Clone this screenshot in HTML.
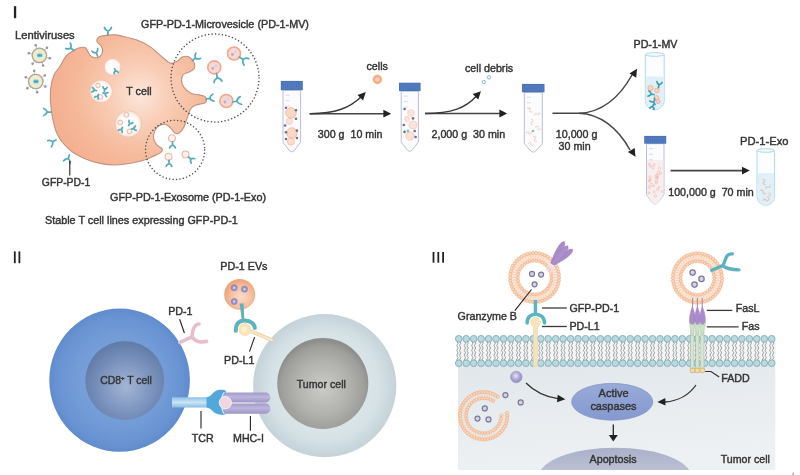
<!DOCTYPE html><html><head><meta charset="utf-8"><style>html,body{margin:0;padding:0;background:#fff;width:800px;height:475px;overflow:hidden}svg{display:block;filter:blur(0.35px)}text{font-family:"Liberation Sans",sans-serif;fill:#343434;stroke:#343434;stroke-width:0.42px}</style></head><body>
<svg width="800" height="475" viewBox="0 0 800 475">
<defs>
<radialGradient id="gT" gradientUnits="userSpaceOnUse" cx="140" cy="95" r="85"><stop offset="0" stop-color="#fce7dc"/><stop offset="0.35" stop-color="#f9cdb6"/><stop offset="0.75" stop-color="#f5b99a"/><stop offset="1" stop-color="#f4b192"/></radialGradient>
<radialGradient id="gVes" cx="0.5" cy="0.5" r="0.5"><stop offset="0" stop-color="#ffffff"/><stop offset="0.72" stop-color="#fefaf8"/><stop offset="0.9" stop-color="#fbe9e0"/><stop offset="1" stop-color="#f6d3c1"/></radialGradient>
<radialGradient id="gCD8" cx="0.5" cy="0.5" r="0.5"><stop offset="0" stop-color="#80a6dc"/><stop offset="0.6" stop-color="#749dd8"/><stop offset="0.9" stop-color="#6892d2"/><stop offset="1" stop-color="#608bcd"/></radialGradient>
<radialGradient id="gCD8n" cx="0.52" cy="0.58" r="0.55"><stop offset="0" stop-color="#a3b5d3"/><stop offset="0.55" stop-color="#7e96c0"/><stop offset="1" stop-color="#637daa"/></radialGradient>
<radialGradient id="gTum" cx="0.5" cy="0.5" r="0.5"><stop offset="0" stop-color="#e9f0f2"/><stop offset="0.75" stop-color="#d6e2e6"/><stop offset="1" stop-color="#c4d3d9"/></radialGradient>
<radialGradient id="gTumn" cx="0.5" cy="0.55" r="0.52"><stop offset="0" stop-color="#cbcbc8"/><stop offset="0.55" stop-color="#b2b2af"/><stop offset="0.88" stop-color="#9e9e9b"/><stop offset="1" stop-color="#8e8e8c"/></radialGradient>
<radialGradient id="gEV" cx="0.55" cy="0.58" r="0.55"><stop offset="0" stop-color="#fadccb"/><stop offset="0.6" stop-color="#f6c0a0"/><stop offset="1" stop-color="#f0a37a"/></radialGradient>
<radialGradient id="gGz" cx="0.45" cy="0.4" r="0.6"><stop offset="0" stop-color="#e6e2f2"/><stop offset="0.6" stop-color="#aaa3d0"/><stop offset="1" stop-color="#8f88bd"/></radialGradient>
<linearGradient id="gCyt" x1="0" y1="0" x2="0.3" y2="1"><stop offset="0" stop-color="#e1e7eb"/><stop offset="1" stop-color="#eef1f4"/></linearGradient><linearGradient id="gCas" x1="0" y1="0" x2="0" y2="1"><stop offset="0" stop-color="#97aad8"/><stop offset="1" stop-color="#8699cf"/></linearGradient>
<linearGradient id="gTCR" x1="0" y1="0" x2="0" y2="1"><stop offset="0" stop-color="#8cc2e6"/><stop offset="0.5" stop-color="#cbe5f4"/><stop offset="1" stop-color="#86bde3"/></linearGradient><linearGradient id="gMHC" x1="0" y1="0" x2="0" y2="1"><stop offset="0" stop-color="#a199c8"/><stop offset="0.45" stop-color="#bdb6dc"/><stop offset="1" stop-color="#9d95c5"/></linearGradient>
<linearGradient id="gApo" x1="0" y1="0" x2="0" y2="1"><stop offset="0" stop-color="#a9b0c9"/><stop offset="0.4" stop-color="#bcc1d3"/><stop offset="1" stop-color="#e2e5ec"/></linearGradient>
<radialGradient id="gVir" cx="0.5" cy="0.5" r="0.5"><stop offset="0" stop-color="#8fd0dc"/><stop offset="0.35" stop-color="#d9eedb"/><stop offset="0.65" stop-color="#f3efc8"/><stop offset="0.85" stop-color="#ead9c9"/><stop offset="1" stop-color="#b5b29f"/></radialGradient>
</defs>
<rect x="13.9" y="6.2" width="2.3" height="12" fill="#222"/>
<text x="15" y="38.9" font-size="11.2">Lentiviruses</text>
<line x1="36.8" y1="48.3" x2="35.7" y2="45.3" stroke="#c3afd6" stroke-width="0.8"/><circle cx="35.7" cy="45.3" r="1.25" fill="#948fa8"/>
<line x1="44.8" y1="50.0" x2="47.0" y2="47.8" stroke="#c3afd6" stroke-width="0.8"/><circle cx="47.0" cy="47.8" r="1.25" fill="#948fa8"/>
<line x1="46.7" y1="57.4" x2="49.8" y2="58.2" stroke="#c3afd6" stroke-width="0.8"/><circle cx="49.8" cy="58.2" r="1.25" fill="#948fa8"/>
<line x1="42.0" y1="62.5" x2="43.1" y2="65.5" stroke="#c3afd6" stroke-width="0.8"/><circle cx="43.1" cy="65.5" r="1.25" fill="#948fa8"/>
<line x1="34.6" y1="61.3" x2="32.6" y2="63.8" stroke="#c3afd6" stroke-width="0.8"/><circle cx="32.6" cy="63.8" r="1.25" fill="#948fa8"/>
<line x1="31.9" y1="53.9" x2="28.8" y2="53.3" stroke="#c3afd6" stroke-width="0.8"/><circle cx="28.8" cy="53.3" r="1.25" fill="#948fa8"/>
<circle cx="39.4" cy="55.4" r="7.8" fill="url(#gVir)"/>
<circle cx="39.4" cy="55.4" r="7.2" fill="none" stroke="#aba895" stroke-width="1.1"/>
<rect x="37.2" y="53.7" width="5" height="3.4" rx="0.8" fill="#5ab3c9" opacity="0.85"/>
<path d="M37.7,55.9 l1,-1 l1,1 l1,-1 l1,1" stroke="#3d6f9a" stroke-width="0.5" fill="none"/>
<line x1="34.6" y1="74.0" x2="34.2" y2="70.8" stroke="#c3afd6" stroke-width="0.8"/><circle cx="34.2" cy="70.8" r="1.25" fill="#948fa8"/>
<line x1="42.1" y1="77.4" x2="44.8" y2="75.6" stroke="#c3afd6" stroke-width="0.8"/><circle cx="44.8" cy="75.6" r="1.25" fill="#948fa8"/>
<line x1="42.5" y1="85.0" x2="45.3" y2="86.4" stroke="#c3afd6" stroke-width="0.8"/><circle cx="45.3" cy="86.4" r="1.25" fill="#948fa8"/>
<line x1="36.8" y1="89.0" x2="37.2" y2="92.2" stroke="#c3afd6" stroke-width="0.8"/><circle cx="37.2" cy="92.2" r="1.25" fill="#948fa8"/>
<line x1="29.8" y1="86.3" x2="27.3" y2="88.3" stroke="#c3afd6" stroke-width="0.8"/><circle cx="27.3" cy="88.3" r="1.25" fill="#948fa8"/>
<line x1="28.7" y1="78.5" x2="25.8" y2="77.3" stroke="#c3afd6" stroke-width="0.8"/><circle cx="25.8" cy="77.3" r="1.25" fill="#948fa8"/>
<circle cx="35.7" cy="81.5" r="7.8" fill="url(#gVir)"/>
<circle cx="35.7" cy="81.5" r="7.2" fill="none" stroke="#aba895" stroke-width="1.1"/>
<rect x="33.5" y="79.8" width="5" height="3.4" rx="0.8" fill="#5ab3c9" opacity="0.85"/>
<path d="M34.0,82.0 l1,-1 l1,1 l1,-1 l1,1" stroke="#3d6f9a" stroke-width="0.5" fill="none"/>
<path d="M60.0,66.3 C62.0,63.1 64.0,58.4 66.3,55.8 C68.6,53.2 71.5,51.9 73.7,50.5 C75.9,49.1 77.5,48.2 79.3,47.7 C81.1,47.2 83.1,47.1 84.3,47.3 C85.5,47.5 85.8,48.0 86.5,48.8 C87.2,49.6 87.5,51.1 88.2,52.3 C88.9,53.5 89.7,55.0 90.7,55.9 C91.7,56.8 93.0,57.5 94.3,57.7 C95.6,57.9 97.4,57.8 98.6,57.3 C99.8,56.8 100.8,55.7 101.5,54.5 C102.2,53.3 102.7,51.6 102.6,50.2 C102.5,48.8 101.9,47.1 101.1,45.9 C100.3,44.7 98.6,43.9 97.9,43.0 C97.2,42.1 96.8,41.4 96.8,40.5 C96.8,39.6 97.1,38.5 97.9,37.8 C98.7,37.1 100.0,36.5 101.5,36.1 C103.0,35.7 105.0,35.3 107.2,35.1 C109.5,34.9 112.9,34.7 115.0,34.8 C117.1,34.9 116.3,34.7 120.0,35.6 C123.7,36.5 131.8,38.2 136.9,40.1 C142.0,42.0 146.1,44.1 150.3,46.9 C154.5,49.7 158.7,54.3 162.1,57.0 C165.5,59.7 168.1,62.5 170.6,63.2 C173.1,63.9 175.3,62.2 177.3,61.2 C179.3,60.2 180.4,57.7 182.4,57.0 C184.4,56.3 187.1,56.0 189.1,57.0 C191.1,58.0 193.3,60.9 194.2,62.9 C195.0,64.9 195.0,67.3 194.2,68.8 C193.3,70.3 190.9,71.1 189.1,72.1 C187.3,73.1 184.5,73.3 183.2,74.7 C181.9,76.1 181.4,78.5 181.5,80.6 C181.6,82.7 182.4,85.2 184.0,87.3 C185.6,89.4 188.3,91.9 190.8,93.2 C193.3,94.5 196.8,94.3 199.2,94.9 C201.6,95.5 203.9,95.7 205.1,96.6 C206.3,97.5 206.6,99.5 206.5,100.5 C206.4,101.5 206.6,102.1 204.7,102.9 C202.8,103.7 197.7,104.2 195.3,105.3 C192.9,106.3 191.8,107.2 190.5,109.2 C189.2,111.2 188.5,114.2 187.4,117.1 C186.3,120.0 185.5,124.0 184.2,126.6 C182.9,129.2 181.1,131.8 179.5,132.9 C177.9,134.0 176.1,133.7 174.7,132.9 C173.2,132.1 172.4,129.6 170.8,128.2 C169.2,126.7 167.3,124.6 165.3,124.2 C163.3,123.8 160.7,124.8 159.0,125.8 C157.3,126.8 155.9,128.5 155.0,130.5 C154.1,132.5 153.1,135.2 153.4,137.6 C153.7,140.0 155.2,142.8 156.6,144.7 C158.0,146.5 161.4,147.4 162.1,148.7 C162.8,150.0 162.1,151.3 160.5,152.6 C158.9,153.9 156.0,155.1 152.6,156.6 C149.2,158.1 145.5,159.9 140.0,161.3 C134.5,162.7 125.8,164.4 119.5,164.8 C113.2,165.2 108.5,165.0 102.5,163.9 C96.5,162.8 89.3,160.7 83.6,158.2 C77.9,155.7 72.8,152.8 68.4,148.7 C64.0,144.6 59.8,139.9 57.0,133.6 C54.2,127.3 52.5,118.1 51.4,110.8 C50.3,103.5 50.1,96.0 50.5,90.0 C50.9,84.0 52.4,79.0 54.0,75.0 C55.6,71.0 58.0,69.5 60.0,66.3Z" fill="url(#gT)" stroke="#bf927f" stroke-width="1.1"/>
<circle cx="112.6" cy="67" r="8.5" fill="url(#gVes)" stroke="#e9c3b3" stroke-width="0.6"/>
<circle cx="101.2" cy="91.3" r="11.4" fill="url(#gVes)" stroke="#e9c3b3" stroke-width="0.6"/>
<circle cx="128.3" cy="123.9" r="13.3" fill="url(#gVes)" stroke="#e9c3b3" stroke-width="0.6"/>
<g transform="translate(114.6,68.8) rotate(160.0) scale(0.62)"><path d="M0,0 L0,-3.7 M0,-3.7 C-1.8,-4.6 -3.2,-5.8 -3.5,-7.4 M0,-3.7 C1.8,-4.6 3.2,-5.8 3.5,-7.4" fill="none" stroke="#52acb9" stroke-width="2.82" stroke-linecap="round"/></g>
<circle cx="98.0" cy="85.5" r="2.3" fill="#fdf0ee" stroke="#efb4a5" stroke-width="1.0"/>
<circle cx="100.5" cy="97.0" r="2.3" fill="#fdf0ee" stroke="#efb4a5" stroke-width="1.0"/>
<g transform="translate(96.5,90.5) rotate(-80.0) scale(0.60)"><path d="M0,0 L0,-3.7 M0,-3.7 C-1.8,-4.6 -3.2,-5.8 -3.5,-7.4 M0,-3.7 C1.8,-4.6 3.2,-5.8 3.5,-7.4" fill="none" stroke="#52acb9" stroke-width="2.92" stroke-linecap="round"/></g>
<g transform="translate(104.3,91.5) rotate(10.0) scale(0.60)"><path d="M0,0 L0,-3.7 M0,-3.7 C-1.8,-4.6 -3.2,-5.8 -3.5,-7.4 M0,-3.7 C1.8,-4.6 3.2,-5.8 3.5,-7.4" fill="none" stroke="#52acb9" stroke-width="2.92" stroke-linecap="round"/></g>
<g transform="translate(103.0,93.0) rotate(110.0) scale(0.60)"><path d="M0,0 L0,-3.7 M0,-3.7 C-1.8,-4.6 -3.2,-5.8 -3.5,-7.4 M0,-3.7 C1.8,-4.6 3.2,-5.8 3.5,-7.4" fill="none" stroke="#52acb9" stroke-width="2.92" stroke-linecap="round"/></g>
<g transform="translate(98.5,94.5) rotate(-150.0) scale(0.55)"><path d="M0,0 L0,-3.7 M0,-3.7 C-1.8,-4.6 -3.2,-5.8 -3.5,-7.4 M0,-3.7 C1.8,-4.6 3.2,-5.8 3.5,-7.4" fill="none" stroke="#52acb9" stroke-width="3.18" stroke-linecap="round"/></g>
<circle cx="126.4" cy="114.8" r="2.5" fill="#fdf0ee" stroke="#efb4a5" stroke-width="1.0"/>
<circle cx="120.2" cy="122.5" r="2.4" fill="#fdf0ee" stroke="#efb4a5" stroke-width="1.0"/>
<circle cx="129.5" cy="131.4" r="2.4" fill="#fdf0ee" stroke="#efb4a5" stroke-width="1.0"/>
<g transform="translate(128.6,125.5) rotate(30.0) scale(0.62)"><path d="M0,0 L0,-3.7 M0,-3.7 C-1.8,-4.6 -3.2,-5.8 -3.5,-7.4 M0,-3.7 C1.8,-4.6 3.2,-5.8 3.5,-7.4" fill="none" stroke="#52acb9" stroke-width="2.82" stroke-linecap="round"/></g>
<g transform="translate(122.5,127.5) rotate(-150.0) scale(0.60)"><path d="M0,0 L0,-3.7 M0,-3.7 C-1.8,-4.6 -3.2,-5.8 -3.5,-7.4 M0,-3.7 C1.8,-4.6 3.2,-5.8 3.5,-7.4" fill="none" stroke="#52acb9" stroke-width="2.92" stroke-linecap="round"/></g>
<g transform="translate(131.5,129.0) rotate(80.0) scale(0.60)"><path d="M0,0 L0,-3.7 M0,-3.7 C-1.8,-4.6 -3.2,-5.8 -3.5,-7.4 M0,-3.7 C1.8,-4.6 3.2,-5.8 3.5,-7.4" fill="none" stroke="#52acb9" stroke-width="2.92" stroke-linecap="round"/></g>
<text x="126.3" y="95.3" font-size="10.7">T cell</text>
<g transform="translate(107.9,34.9) rotate(0.0) scale(1.00)"><path d="M0,0 L0,-3.7 M0,-3.7 C-1.8,-4.6 -3.2,-5.8 -3.5,-7.4 M0,-3.7 C1.8,-4.6 3.2,-5.8 3.5,-7.4" fill="none" stroke="#52acb9" stroke-width="1.75" stroke-linecap="round"/></g>
<g transform="translate(73.7,50.5) rotate(-50.0) scale(1.00)"><path d="M0,0 L0,-3.7 M0,-3.7 C-1.8,-4.6 -3.2,-5.8 -3.5,-7.4 M0,-3.7 C1.8,-4.6 3.2,-5.8 3.5,-7.4" fill="none" stroke="#52acb9" stroke-width="1.75" stroke-linecap="round"/></g>
<g transform="translate(97.6,56.0) rotate(-25.0) scale(0.90)"><path d="M0,0 L0,-3.7 M0,-3.7 C-1.8,-4.6 -3.2,-5.8 -3.5,-7.4 M0,-3.7 C1.8,-4.6 3.2,-5.8 3.5,-7.4" fill="none" stroke="#52acb9" stroke-width="1.94" stroke-linecap="round"/></g>
<g transform="translate(51.0,112.0) rotate(-90.0) scale(1.00)"><path d="M0,0 L0,-3.7 M0,-3.7 C-1.8,-4.6 -3.2,-5.8 -3.5,-7.4 M0,-3.7 C1.8,-4.6 3.2,-5.8 3.5,-7.4" fill="none" stroke="#52acb9" stroke-width="1.75" stroke-linecap="round"/></g>
<g transform="translate(56.0,140.0) rotate(-120.0) scale(1.00)"><path d="M0,0 L0,-3.7 M0,-3.7 C-1.8,-4.6 -3.2,-5.8 -3.5,-7.4 M0,-3.7 C1.8,-4.6 3.2,-5.8 3.5,-7.4" fill="none" stroke="#52acb9" stroke-width="1.75" stroke-linecap="round"/></g>
<g transform="translate(69.5,155.0) rotate(-160.0) scale(1.00)"><path d="M0,0 L0,-3.7 M0,-3.7 C-1.8,-4.6 -3.2,-5.8 -3.5,-7.4 M0,-3.7 C1.8,-4.6 3.2,-5.8 3.5,-7.4" fill="none" stroke="#52acb9" stroke-width="1.75" stroke-linecap="round"/></g>
<g transform="translate(192.5,60.5) rotate(50.0) scale(1.00)"><path d="M0,0 L0,-3.7 M0,-3.7 C-1.8,-4.6 -3.2,-5.8 -3.5,-7.4 M0,-3.7 C1.8,-4.6 3.2,-5.8 3.5,-7.4" fill="none" stroke="#52acb9" stroke-width="1.75" stroke-linecap="round"/></g>
<g transform="translate(206.0,99.0) rotate(80.0) scale(1.00)"><path d="M0,0 L0,-3.7 M0,-3.7 C-1.8,-4.6 -3.2,-5.8 -3.5,-7.4 M0,-3.7 C1.8,-4.6 3.2,-5.8 3.5,-7.4" fill="none" stroke="#52acb9" stroke-width="1.75" stroke-linecap="round"/></g>
<line x1="69.8" y1="161" x2="69.8" y2="175.5" stroke="#222" stroke-width="1.1"/>
<text x="41.8" y="186.4" font-size="10.4">GFP-PD-1</text>
<circle cx="215" cy="78" r="44" fill="none" stroke="#4a4a4a" stroke-width="1.5" stroke-dasharray="0.01 3.45" stroke-linecap="round"/>
<circle cx="175.1" cy="149.9" r="29.6" fill="none" stroke="#4a4a4a" stroke-width="1.5" stroke-dasharray="0.01 3.45" stroke-linecap="round"/>
<circle cx="234.0" cy="53.5" r="6.5" fill="#f8d8d0" stroke="#efa98f" stroke-width="1.6"/><circle cx="232.5" cy="54.5" r="1.4" fill="#b9a9d4"/><circle cx="235.5" cy="52.0" r="1.4" fill="#d6cfe6"/>
<g transform="translate(239.5,57.0) rotate(125.0) scale(1.15)"><path d="M0,0 L0,-3.7 M0,-3.7 C-1.8,-4.6 -3.2,-5.8 -3.5,-7.4 M0,-3.7 C1.8,-4.6 3.2,-5.8 3.5,-7.4" fill="none" stroke="#52acb9" stroke-width="1.52" stroke-linecap="round"/></g>
<circle cx="214.3" cy="67.4" r="6.5" fill="#f8d8d0" stroke="#efa98f" stroke-width="1.6"/><circle cx="212.8" cy="68.4" r="1.4" fill="#b9a9d4"/><circle cx="215.8" cy="65.9" r="1.4" fill="#d6cfe6"/>
<g transform="translate(216.5,73.5) rotate(170.0) scale(1.15)"><path d="M0,0 L0,-3.7 M0,-3.7 C-1.8,-4.6 -3.2,-5.8 -3.5,-7.4 M0,-3.7 C1.8,-4.6 3.2,-5.8 3.5,-7.4" fill="none" stroke="#52acb9" stroke-width="1.52" stroke-linecap="round"/></g>
<circle cx="226.4" cy="101.0" r="6.5" fill="#f8d8d0" stroke="#efa98f" stroke-width="1.6"/><circle cx="224.9" cy="102.0" r="1.4" fill="#b9a9d4"/><circle cx="227.9" cy="99.5" r="1.4" fill="#d6cfe6"/>
<g transform="translate(232.5,102.0) rotate(80.0) scale(1.15)"><path d="M0,0 L0,-3.7 M0,-3.7 C-1.8,-4.6 -3.2,-5.8 -3.5,-7.4 M0,-3.7 C1.8,-4.6 3.2,-5.8 3.5,-7.4" fill="none" stroke="#52acb9" stroke-width="1.52" stroke-linecap="round"/></g>
<circle cx="172.0" cy="138.2" r="3.4" fill="#fdf0ee" stroke="#efb4a5" stroke-width="1.1"/>
<g transform="translate(172.5,142.0) rotate(180.0) scale(0.80)"><path d="M0,0 L0,-3.7 M0,-3.7 C-1.8,-4.6 -3.2,-5.8 -3.5,-7.4 M0,-3.7 C1.8,-4.6 3.2,-5.8 3.5,-7.4" fill="none" stroke="#52acb9" stroke-width="2.19" stroke-linecap="round"/></g>
<circle cx="168.6" cy="156.7" r="3.4" fill="#fdf0ee" stroke="#efb4a5" stroke-width="1.1"/>
<g transform="translate(169.0,160.5) rotate(180.0) scale(0.80)"><path d="M0,0 L0,-3.7 M0,-3.7 C-1.8,-4.6 -3.2,-5.8 -3.5,-7.4 M0,-3.7 C1.8,-4.6 3.2,-5.8 3.5,-7.4" fill="none" stroke="#52acb9" stroke-width="2.19" stroke-linecap="round"/></g>
<circle cx="185.5" cy="154.4" r="3.4" fill="#fdf0ee" stroke="#efb4a5" stroke-width="1.1"/>
<g transform="translate(188.5,157.0) rotate(130.0) scale(0.80)"><path d="M0,0 L0,-3.7 M0,-3.7 C-1.8,-4.6 -3.2,-5.8 -3.5,-7.4 M0,-3.7 C1.8,-4.6 3.2,-5.8 3.5,-7.4" fill="none" stroke="#52acb9" stroke-width="2.19" stroke-linecap="round"/></g>
<text x="141" y="28" font-size="10.8">GFP-PD-1-Microvesicle (PD-1-MV)</text>
<text x="110" y="200.8" font-size="10.8">GFP-PD-1-Exosome (PD-1-Exo)</text>
<text x="45" y="223.6" font-size="10.8">Stable T cell lines expressing GFP-PD-1</text>
<g><path d="M283.0,90.2 L283.0,142.3 L289.6,150.9 Q291.8,152.9 294.0,150.9 L300.6,142.3 L300.6,90.2 Z" fill="#fcfbfe" stroke="#b9bfd8" stroke-width="1" stroke-linejoin="round"/><circle cx="291.0" cy="112.9" r="5.2" fill="#f9d3bd" stroke="#f0a983" stroke-width="0.9" opacity="0.85"/><circle cx="289.3" cy="121.3" r="3.2" fill="#f9d3bd" stroke="#f0a983" stroke-width="0.9" opacity="0.60"/><circle cx="291.8" cy="133.0" r="5.2" fill="#f9d3bd" stroke="#f0a983" stroke-width="0.9" opacity="0.85"/><circle cx="291.0" cy="141.5" r="3.6" fill="#f9d3bd" stroke="#f0a983" stroke-width="0.9" opacity="0.70"/><circle cx="286.0" cy="107.8" r="1.3" fill="#6a7092"/><circle cx="296.0" cy="110.3" r="1.3" fill="#6a7092"/><circle cx="285.1" cy="125.5" r="1.3" fill="#6a7092"/><circle cx="296.0" cy="118.8" r="1.3" fill="#6a7092"/><circle cx="286.0" cy="132.2" r="1.3" fill="#6a7092"/><circle cx="296.9" cy="130.6" r="1.3" fill="#6a7092"/><circle cx="286.0" cy="139.0" r="1.3" fill="#6a7092"/><circle cx="296.9" cy="138.0" r="1.3" fill="#6a7092"/><line x1="285.5" y1="95.2" x2="289.5" y2="95.2" stroke="#cdd3e8" stroke-width="0.8"/><line x1="285.5" y1="100.7" x2="289.5" y2="100.7" stroke="#cdd3e8" stroke-width="0.8"/><line x1="285.5" y1="106.2" x2="289.5" y2="106.2" stroke="#cdd3e8" stroke-width="0.8"/><rect x="280.8" y="80.9" width="22.0" height="9.3" fill="#4b74b8"/><line x1="282.6" y1="81.9" x2="282.6" y2="89.2" stroke="#5c82c2" stroke-width="0.7"/><line x1="284.5" y1="81.9" x2="284.5" y2="89.2" stroke="#5c82c2" stroke-width="0.7"/><line x1="286.3" y1="81.9" x2="286.3" y2="89.2" stroke="#5c82c2" stroke-width="0.7"/><line x1="288.1" y1="81.9" x2="288.1" y2="89.2" stroke="#5c82c2" stroke-width="0.7"/><line x1="290.0" y1="81.9" x2="290.0" y2="89.2" stroke="#5c82c2" stroke-width="0.7"/><line x1="291.8" y1="81.9" x2="291.8" y2="89.2" stroke="#5c82c2" stroke-width="0.7"/><line x1="293.6" y1="81.9" x2="293.6" y2="89.2" stroke="#5c82c2" stroke-width="0.7"/><line x1="295.5" y1="81.9" x2="295.5" y2="89.2" stroke="#5c82c2" stroke-width="0.7"/><line x1="297.3" y1="81.9" x2="297.3" y2="89.2" stroke="#5c82c2" stroke-width="0.7"/><line x1="299.1" y1="81.9" x2="299.1" y2="89.2" stroke="#5c82c2" stroke-width="0.7"/><line x1="301.0" y1="81.9" x2="301.0" y2="89.2" stroke="#5c82c2" stroke-width="0.7"/></g>
<g><path d="M401.2,91.1 L401.2,142.0 L407.6,150.4 Q409.8,152.4 412.0,150.4 L418.4,142.0 L418.4,91.1 Z" fill="#fcfbfe" stroke="#b9bfd8" stroke-width="1" stroke-linejoin="round"/><circle cx="411.0" cy="113.0" r="3.3" fill="#f9d3bd" stroke="#f0a983" stroke-width="0.9" opacity="0.50"/><circle cx="413.0" cy="125.0" r="4.0" fill="#f9d3bd" stroke="#f0a983" stroke-width="0.9" opacity="0.55"/><circle cx="410.0" cy="136.0" r="4.2" fill="#f9d3bd" stroke="#f0a983" stroke-width="0.9" opacity="0.60"/><circle cx="407.0" cy="119.0" r="2.5" fill="#f9d3bd" stroke="#f0a983" stroke-width="0.9" opacity="0.50"/><circle cx="404.6" cy="109.0" r="1.3" fill="#6a7092"/><circle cx="413.0" cy="118.4" r="1.3" fill="#6a7092"/><circle cx="403.8" cy="125.0" r="1.3" fill="#6a7092"/><circle cx="404.6" cy="131.9" r="1.3" fill="#6a7092"/><circle cx="414.7" cy="131.0" r="1.3" fill="#6a7092"/><circle cx="415.6" cy="137.0" r="1.3" fill="#6a7092"/><circle cx="408" cy="131" r="1.4" fill="#7fc5d6"/><line x1="403.7" y1="96.1" x2="407.7" y2="96.1" stroke="#cdd3e8" stroke-width="0.8"/><line x1="403.7" y1="101.6" x2="407.7" y2="101.6" stroke="#cdd3e8" stroke-width="0.8"/><line x1="403.7" y1="107.1" x2="407.7" y2="107.1" stroke="#cdd3e8" stroke-width="0.8"/><rect x="399.0" y="82.7" width="21.6" height="8.4" fill="#4b74b8"/><line x1="400.8" y1="83.7" x2="400.8" y2="90.1" stroke="#5c82c2" stroke-width="0.7"/><line x1="402.6" y1="83.7" x2="402.6" y2="90.1" stroke="#5c82c2" stroke-width="0.7"/><line x1="404.4" y1="83.7" x2="404.4" y2="90.1" stroke="#5c82c2" stroke-width="0.7"/><line x1="406.2" y1="83.7" x2="406.2" y2="90.1" stroke="#5c82c2" stroke-width="0.7"/><line x1="408.0" y1="83.7" x2="408.0" y2="90.1" stroke="#5c82c2" stroke-width="0.7"/><line x1="409.8" y1="83.7" x2="409.8" y2="90.1" stroke="#5c82c2" stroke-width="0.7"/><line x1="411.6" y1="83.7" x2="411.6" y2="90.1" stroke="#5c82c2" stroke-width="0.7"/><line x1="413.4" y1="83.7" x2="413.4" y2="90.1" stroke="#5c82c2" stroke-width="0.7"/><line x1="415.2" y1="83.7" x2="415.2" y2="90.1" stroke="#5c82c2" stroke-width="0.7"/><line x1="417.0" y1="83.7" x2="417.0" y2="90.1" stroke="#5c82c2" stroke-width="0.7"/><line x1="418.8" y1="83.7" x2="418.8" y2="90.1" stroke="#5c82c2" stroke-width="0.7"/></g>
<g><path d="M524.3,92.3 L524.3,143.7 L531.1,151.3 Q533.3,153.3 535.5,151.3 L542.3,143.7 L542.3,92.3 Z" fill="#fcfbfe" stroke="#b9bfd8" stroke-width="1" stroke-linejoin="round"/><path transform="translate(530.0,110.0) rotate(30)" d="M-3,0 C-2,-2 0,-2 0,0 C0,2 2,2 3,0" fill="none" stroke="#f2b28f" stroke-width="1" opacity="0.55"/><path transform="translate(537.0,114.0) rotate(-40)" d="M-3,0 C-2,-2 0,-2 0,0 C0,2 2,2 3,0" fill="none" stroke="#f2b28f" stroke-width="1" opacity="0.55"/><path transform="translate(532.0,122.0) rotate(70)" d="M-3,0 C-2,-2 0,-2 0,0 C0,2 2,2 3,0" fill="none" stroke="#f2b28f" stroke-width="1" opacity="0.55"/><path transform="translate(538.0,128.0) rotate(10)" d="M-3,0 C-2,-2 0,-2 0,0 C0,2 2,2 3,0" fill="none" stroke="#f2b28f" stroke-width="1" opacity="0.55"/><path transform="translate(529.0,133.0) rotate(-20)" d="M-3,0 C-2,-2 0,-2 0,0 C0,2 2,2 3,0" fill="none" stroke="#f2b28f" stroke-width="1" opacity="0.55"/><path transform="translate(535.0,139.0) rotate(50)" d="M-3,0 C-2,-2 0,-2 0,0 C0,2 2,2 3,0" fill="none" stroke="#f2b28f" stroke-width="1" opacity="0.55"/><path transform="translate(531.0,144.0) rotate(0)" d="M-3,0 C-2,-2 0,-2 0,0 C0,2 2,2 3,0" fill="none" stroke="#f2b28f" stroke-width="1" opacity="0.55"/><circle cx="533" cy="131" r="1.3" fill="#7fc5d6"/><line x1="526.8" y1="97.3" x2="530.8" y2="97.3" stroke="#cdd3e8" stroke-width="0.8"/><line x1="526.8" y1="102.8" x2="530.8" y2="102.8" stroke="#cdd3e8" stroke-width="0.8"/><line x1="526.8" y1="108.3" x2="530.8" y2="108.3" stroke="#cdd3e8" stroke-width="0.8"/><rect x="522.0" y="83.9" width="22.5" height="8.4" fill="#4b74b8"/><line x1="523.9" y1="84.9" x2="523.9" y2="91.3" stroke="#5c82c2" stroke-width="0.7"/><line x1="525.8" y1="84.9" x2="525.8" y2="91.3" stroke="#5c82c2" stroke-width="0.7"/><line x1="527.7" y1="84.9" x2="527.7" y2="91.3" stroke="#5c82c2" stroke-width="0.7"/><line x1="529.5" y1="84.9" x2="529.5" y2="91.3" stroke="#5c82c2" stroke-width="0.7"/><line x1="531.4" y1="84.9" x2="531.4" y2="91.3" stroke="#5c82c2" stroke-width="0.7"/><line x1="533.3" y1="84.9" x2="533.3" y2="91.3" stroke="#5c82c2" stroke-width="0.7"/><line x1="535.2" y1="84.9" x2="535.2" y2="91.3" stroke="#5c82c2" stroke-width="0.7"/><line x1="537.0" y1="84.9" x2="537.0" y2="91.3" stroke="#5c82c2" stroke-width="0.7"/><line x1="538.9" y1="84.9" x2="538.9" y2="91.3" stroke="#5c82c2" stroke-width="0.7"/><line x1="540.8" y1="84.9" x2="540.8" y2="91.3" stroke="#5c82c2" stroke-width="0.7"/><line x1="542.7" y1="84.9" x2="542.7" y2="91.3" stroke="#5c82c2" stroke-width="0.7"/></g>
<g><path d="M646.5,143.7 L646.5,194.8 L653.0,203.3 Q655.2,205.3 657.4,203.3 L664.0,194.8 L664.0,143.7 Z" fill="#fcfbfe" stroke="#b9bfd8" stroke-width="1" stroke-linejoin="round"/><path d="M647,160 L647,194.8 L653.3,203.4 Q655.5,205.3 657.7,203.4 L663.4,194.8 L663.4,160 Z" fill="#f8eef0"/><circle cx="652.9" cy="167.4" r="1.3" fill="none" stroke="#eeb09c" stroke-width="0.7" opacity="0.75"/><circle cx="649.5" cy="181.3" r="1.1" fill="none" stroke="#eeb09c" stroke-width="0.7" opacity="0.75"/><circle cx="649.3" cy="180.3" r="0.8" fill="none" stroke="#eeb09c" stroke-width="0.7" opacity="0.75"/><circle cx="654.4" cy="164.5" r="0.9" fill="none" stroke="#eeb09c" stroke-width="0.7" opacity="0.75"/><circle cx="654.2" cy="191.8" r="0.9" fill="none" stroke="#eeb09c" stroke-width="0.7" opacity="0.75"/><circle cx="651.5" cy="184.6" r="1.5" fill="none" stroke="#eeb09c" stroke-width="0.7" opacity="0.75"/><circle cx="656.3" cy="176.3" r="1.5" fill="none" stroke="#eeb09c" stroke-width="0.7" opacity="0.75"/><circle cx="649.1" cy="192.9" r="1.0" fill="none" stroke="#eeb09c" stroke-width="0.7" opacity="0.75"/><circle cx="650.4" cy="166.2" r="1.0" fill="none" stroke="#eeb09c" stroke-width="0.7" opacity="0.75"/><circle cx="659.5" cy="168.5" r="1.2" fill="none" stroke="#eeb09c" stroke-width="0.7" opacity="0.75"/><circle cx="657.1" cy="175.4" r="1.2" fill="none" stroke="#eeb09c" stroke-width="0.7" opacity="0.75"/><circle cx="649.3" cy="164.1" r="0.9" fill="none" stroke="#eeb09c" stroke-width="0.7" opacity="0.75"/><circle cx="657.7" cy="177.4" r="1.0" fill="none" stroke="#eeb09c" stroke-width="0.7" opacity="0.75"/><circle cx="656.4" cy="178.3" r="1.0" fill="none" stroke="#eeb09c" stroke-width="0.7" opacity="0.75"/><circle cx="659.2" cy="187.2" r="1.0" fill="none" stroke="#eeb09c" stroke-width="0.7" opacity="0.75"/><circle cx="656.3" cy="180.9" r="1.4" fill="none" stroke="#eeb09c" stroke-width="0.7" opacity="0.75"/><circle cx="658.3" cy="172.4" r="1.5" fill="none" stroke="#eeb09c" stroke-width="0.7" opacity="0.75"/><circle cx="650.1" cy="177.1" r="1.3" fill="none" stroke="#eeb09c" stroke-width="0.7" opacity="0.75"/><circle cx="650.6" cy="179.6" r="0.8" fill="none" stroke="#eeb09c" stroke-width="0.7" opacity="0.75"/><circle cx="657.5" cy="189.5" r="1.2" fill="none" stroke="#eeb09c" stroke-width="0.7" opacity="0.75"/><circle cx="660.3" cy="173.3" r="1.3" fill="none" stroke="#eeb09c" stroke-width="0.7" opacity="0.75"/><circle cx="656.5" cy="182.9" r="1.1" fill="none" stroke="#eeb09c" stroke-width="0.7" opacity="0.75"/><circle cx="655.3" cy="196.0" r="1.3" fill="none" stroke="#eeb09c" stroke-width="0.7" opacity="0.75"/><circle cx="649.3" cy="187.3" r="1.3" fill="none" stroke="#eeb09c" stroke-width="0.7" opacity="0.75"/><circle cx="661.9" cy="191.6" r="1.0" fill="none" stroke="#eeb09c" stroke-width="0.7" opacity="0.75"/><circle cx="653.7" cy="186.1" r="0.8" fill="none" stroke="#eeb09c" stroke-width="0.7" opacity="0.75"/><line x1="649.0" y1="148.7" x2="653.0" y2="148.7" stroke="#cdd3e8" stroke-width="0.8"/><line x1="649.0" y1="154.2" x2="653.0" y2="154.2" stroke="#cdd3e8" stroke-width="0.8"/><line x1="649.0" y1="159.7" x2="653.0" y2="159.7" stroke="#cdd3e8" stroke-width="0.8"/><rect x="644.2" y="135.9" width="22.0" height="7.8" fill="#4b74b8"/><line x1="646.0" y1="136.9" x2="646.0" y2="142.7" stroke="#5c82c2" stroke-width="0.7"/><line x1="647.9" y1="136.9" x2="647.9" y2="142.7" stroke="#5c82c2" stroke-width="0.7"/><line x1="649.7" y1="136.9" x2="649.7" y2="142.7" stroke="#5c82c2" stroke-width="0.7"/><line x1="651.5" y1="136.9" x2="651.5" y2="142.7" stroke="#5c82c2" stroke-width="0.7"/><line x1="653.4" y1="136.9" x2="653.4" y2="142.7" stroke="#5c82c2" stroke-width="0.7"/><line x1="655.2" y1="136.9" x2="655.2" y2="142.7" stroke="#5c82c2" stroke-width="0.7"/><line x1="657.0" y1="136.9" x2="657.0" y2="142.7" stroke="#5c82c2" stroke-width="0.7"/><line x1="658.9" y1="136.9" x2="658.9" y2="142.7" stroke="#5c82c2" stroke-width="0.7"/><line x1="660.7" y1="136.9" x2="660.7" y2="142.7" stroke="#5c82c2" stroke-width="0.7"/><line x1="662.5" y1="136.9" x2="662.5" y2="142.7" stroke="#5c82c2" stroke-width="0.7"/><line x1="664.4" y1="136.9" x2="664.4" y2="142.7" stroke="#5c82c2" stroke-width="0.7"/></g>
<path d="M645.3,54.5 L645.3,101.3 A9.5,9.5 0 0 0 664.2,101.3 L664.2,54.5" fill="#fbfdfe" stroke="#a9d3ea" stroke-width="0.9"/><path d="M645.8,76.6 L645.8,101.3 A9.0,9.0 0 0 0 663.7,101.3 L663.7,76.6 Z" fill="#e0eff8"/><ellipse cx="654.8" cy="54.5" rx="9.5" ry="1.8" fill="#f4f9fc" stroke="#a9d3ea" stroke-width="0.9"/><circle cx="650.5" cy="88" r="2.6" fill="#f6d5c4" stroke="#f0b090" stroke-width="0.9"/><circle cx="657" cy="90.5" r="2.3" fill="#f6d5c4" stroke="#f0b090" stroke-width="0.9"/><circle cx="656.5" cy="98" r="2.4" fill="#f6d5c4" stroke="#eea897" stroke-width="0.9"/><circle cx="658" cy="101.5" r="2" fill="#f6d5c4" stroke="#eea897" stroke-width="0.9"/><g transform="translate(658.5,87.5) rotate(10.0) scale(0.75)"><path d="M0,0 L0,-3.7 M0,-3.7 C-1.8,-4.6 -3.2,-5.8 -3.5,-7.4 M0,-3.7 C1.8,-4.6 3.2,-5.8 3.5,-7.4" fill="none" stroke="#3f9fb6" stroke-width="2.33" stroke-linecap="round"/></g><g transform="translate(654.0,94.5) rotate(-80.0) scale(0.75)"><path d="M0,0 L0,-3.7 M0,-3.7 C-1.8,-4.6 -3.2,-5.8 -3.5,-7.4 M0,-3.7 C1.8,-4.6 3.2,-5.8 3.5,-7.4" fill="none" stroke="#3f9fb6" stroke-width="2.33" stroke-linecap="round"/></g><g transform="translate(655.0,104.5) rotate(-30.0) scale(0.75)"><path d="M0,0 L0,-3.7 M0,-3.7 C-1.8,-4.6 -3.2,-5.8 -3.5,-7.4 M0,-3.7 C1.8,-4.6 3.2,-5.8 3.5,-7.4" fill="none" stroke="#3f9fb6" stroke-width="2.33" stroke-linecap="round"/></g><g transform="translate(653.5,104.5) rotate(200.0) scale(0.60)"><path d="M0,0 L0,-3.7 M0,-3.7 C-1.8,-4.6 -3.2,-5.8 -3.5,-7.4 M0,-3.7 C1.8,-4.6 3.2,-5.8 3.5,-7.4" fill="none" stroke="#3f9fb6" stroke-width="2.92" stroke-linecap="round"/></g>
<path d="M757.0,150.5 L757.0,196.5 A8.8,8.8 0 0 0 774.6,196.5 L774.6,150.5" fill="#fbfdfe" stroke="#a9d3ea" stroke-width="0.9"/><path d="M757.5,173.0 L757.5,196.5 A8.3,8.3 0 0 0 774.1,196.5 L774.1,173.0 Z" fill="#e0eff8"/><ellipse cx="765.8" cy="150.5" rx="8.8" ry="1.8" fill="#f4f9fc" stroke="#a9d3ea" stroke-width="0.9"/><path transform="translate(764.0,182.0) rotate(60)" d="M-3,0 C-2,-2 0,-2 0,0 C0,2 2,2 3,0" fill="none" stroke="#e9b394" stroke-width="1" opacity="0.80"/><path transform="translate(768.0,187.0) rotate(-50)" d="M-3,0 C-2,-2 0,-2 0,0 C0,2 2,2 3,0" fill="none" stroke="#d9c4b0" stroke-width="1" opacity="0.80"/><path transform="translate(763.0,192.0) rotate(20)" d="M-3,0 C-2,-2 0,-2 0,0 C0,2 2,2 3,0" fill="none" stroke="#e9b394" stroke-width="1" opacity="0.80"/><path transform="translate(769.0,196.0) rotate(80)" d="M-3,0 C-2,-2 0,-2 0,0 C0,2 2,2 3,0" fill="none" stroke="#d9c4b0" stroke-width="1" opacity="0.80"/><path transform="translate(766.0,200.0) rotate(-20)" d="M-3,0 C-2,-2 0,-2 0,0 C0,2 2,2 3,0" fill="none" stroke="#e9b394" stroke-width="1" opacity="0.80"/>
<path d="M309.4,113.7 L385,113.7" stroke="#444" stroke-width="1.55" fill="none"/>
<path d="M391.2,113.7 L383.4,117.6 L383.4,109.8 Z" fill="#222"/>
<path d="M310,113.7 C336,113.7 350,107.5 361,97" stroke="#3a3a3a" stroke-width="1.45" fill="none"/>
<path d="M365.8,92.1 L363.0,100.4 L357.5,94.9 Z" fill="#222"/>
<path d="M425,113.5 L501,113.5" stroke="#444" stroke-width="1.55" fill="none"/>
<path d="M507.2,113.5 L499.4,117.4 L499.4,109.6 Z" fill="#222"/>
<path d="M425,113.5 C452,113.5 466,107.5 476,96.5" stroke="#3a3a3a" stroke-width="1.45" fill="none"/>
<path d="M481.0,91.3 L478.2,99.6 L472.7,94.1 Z" fill="#222"/>
<path d="M552.5,113.3 L580,113.3 C600,112 618,100 632,75" stroke="#444" stroke-width="1.5" fill="none"/>
<path d="M637.0,68.8 L636.2,77.7 L629.4,73.5 Z" fill="#222"/>
<path d="M579,113.3 C600,114 618,128 630,150" stroke="#444" stroke-width="1.45" fill="none"/>
<path d="M635.5,156.8 L627.9,152.1 L634.7,147.9 Z" fill="#222"/>
<path d="M670.6,170.6 L743,170.6" stroke="#444" stroke-width="1.55" fill="none"/>
<path d="M749.8,170.6 L742.0,174.5 L742.0,166.7 Z" fill="#222"/>
<circle cx="377.4" cy="79.5" r="4.7" fill="#f5ad86"/><circle cx="377.4" cy="79.5" r="2.2" fill="#f9d2bd"/>
<circle cx="483.8" cy="82" r="1.7" fill="none" stroke="#7cb6cc" stroke-width="0.9"/><circle cx="489" cy="77.4" r="1.7" fill="none" stroke="#7cb6cc" stroke-width="0.9"/>
<text x="366.5" y="70.4" font-size="10.7">cells</text>
<text x="465" y="71.6" font-size="10.7">cell debris</text>
<text x="317.8" y="138" font-size="10.7" xml:space="preserve">300 g  10 min</text>
<text x="431.5" y="138" font-size="10.7" xml:space="preserve">2,000 g  30 min</text>
<text x="555.8" y="137.6" font-size="10.7">10,000 g</text>
<text x="558.6" y="150.4" font-size="10.7">30 min</text>
<text x="633.5" y="47.9" font-size="10.7">PD-1-MV</text>
<text x="740" y="144.8" font-size="11.2">PD-1-Exo</text>
<text x="668.2" y="196.3" font-size="10.7" xml:space="preserve">100,000 g  70 min</text>
<rect x="13.9" y="251.4" width="1.8" height="11.8" fill="#222"/><rect x="18.5" y="251.4" width="1.8" height="11.8" fill="#222"/>
<ellipse cx="119.6" cy="380.2" rx="70.3" ry="71.6" fill="url(#gCD8)"/>
<circle cx="124.8" cy="380.5" r="39.5" fill="url(#gCD8n)"/>
<text x="100.2" y="383.6" font-size="10.4">CD8<tspan font-size="6" dy="-4">+</tspan><tspan dy="4"> T cell</tspan></text>
<circle cx="324.7" cy="385.6" r="71.6" fill="url(#gTum)"/>
<circle cx="322.8" cy="383.4" r="45.5" fill="url(#gTumn)"/>
<text x="296.8" y="388.4" font-size="10.6">Tumor cell</text>
<path d="M179.8,342.4 L192,336.9 C192.3,332 193,328 195.5,325.6 C196.6,324.6 197.8,324.1 199,324 M192,336.9 C194,339.6 197,341.8 200.3,342 C202.5,342 204.5,341.6 206.6,341.4" fill="none" stroke="#e6bfce" stroke-width="3.6" stroke-linecap="round" stroke-linejoin="round"/>
<line x1="179.6" y1="319.3" x2="184.4" y2="333" stroke="#222" stroke-width="1.1"/>
<text x="168.2" y="315" font-size="10.7">PD-1</text>
<line x1="271.8" y1="339.9" x2="250" y2="331" stroke="#e3cf9c" stroke-width="3.6" stroke-linecap="round"/>
<line x1="271.8" y1="339.9" x2="250" y2="331" stroke="#f7e9c6" stroke-width="2.2" stroke-linecap="round"/>
<circle cx="239.7" cy="294.4" r="15.5" fill="url(#gEV)"/>
<circle cx="234.2" cy="287.8" r="3" fill="#9a94cb" stroke="#847eb8" stroke-width="0.7"/><circle cx="234.2" cy="287.8" r="1.2" fill="#d2cdea"/>
<circle cx="244.5" cy="289.2" r="3" fill="#9a94cb" stroke="#847eb8" stroke-width="0.7"/><circle cx="244.5" cy="289.2" r="1.2" fill="#d2cdea"/>
<circle cx="234.2" cy="301.5" r="3" fill="#9a94cb" stroke="#847eb8" stroke-width="0.7"/><circle cx="234.2" cy="301.5" r="1.2" fill="#d2cdea"/>
<path d="M239.6,303.5 L243.6,303.5 L244.4,320 L241.8,320 Z" fill="#5eb3bf"/>
<circle cx="245" cy="329.6" r="6.3" fill="#f6e3b4"/>
<path d="M235.8,330.8 C235.5,323.5 239.5,320.5 244.6,320.5 C250,320.5 254.6,323.5 254.8,327.8" fill="none" stroke="#5eb3bf" stroke-width="4" stroke-linecap="round"/>
<circle cx="244.6" cy="329" r="6" fill="#f7e5b9"/><circle cx="244" cy="329.5" r="3" fill="#faefd2"/>
<line x1="254.6" y1="337.1" x2="249.5" y2="351.6" stroke="#222" stroke-width="1.1"/>
<text x="224.1" y="363.7" font-size="10.7">PD-L1</text>
<text x="220.3" y="270" font-size="10.75">PD-1 EVs</text>
<path d="M172,397.3 L209,397.3 L209,407.6 L172,407.6 Z" fill="url(#gTCR)"/>
<path d="M206.5,397.3 C212,396.5 213,390.2 219.5,389.7 C223,389.5 225,390 226,391 L226,414 C225,414.8 223,415 219.5,414.6 C213,414 212,408.3 206.5,407.6 Z" fill="#52a8da"/>
<rect x="221.9" y="392.4" width="48.5" height="10.2" rx="5.1" fill="url(#gMHC)"/>
<rect x="221.9" y="403.5" width="48.5" height="10.2" rx="5.1" fill="url(#gMHC)"/>
<path d="M224.5,392 C221.5,395 221.5,399 223,401 M223,404.5 C221.5,407 221.5,411 224.5,414" stroke="#ffffff" stroke-width="1" fill="none"/>
<circle cx="225.3" cy="402.7" r="6.1" fill="#f1d5e1" stroke="#fbf3f6" stroke-width="0.9"/>
<line x1="201" y1="411" x2="201" y2="428.6" stroke="#222" stroke-width="1.1"/>
<line x1="250.4" y1="416" x2="250.4" y2="430.8" stroke="#222" stroke-width="1.1"/>
<text x="191.8" y="441.9" font-size="10.7">TCR</text>
<text x="233" y="441.9" font-size="10.7">MHC-I</text>
<rect x="432.6" y="252" width="1.8" height="10.7" fill="#222"/><rect x="437.4" y="252" width="1.8" height="10.7" fill="#222"/><rect x="442.2" y="252" width="1.8" height="10.7" fill="#222"/>
<rect x="458" y="365" width="317.3" height="105" fill="url(#gCyt)"/>
<rect x="457" y="340" width="319" height="22" fill="#f4f5f5"/>
<path d="M457.4,342 Q458.7,343.2 457.4,344.4 Q456.1,345.6 457.4,346.8 Q458.7,348.0 457.4,349.2 Q456.1,350.4 457.4,351.6 Q458.7,352.8 457.4,354.0 Q456.1,355.2 457.4,356.4 Q458.7,357.6 457.4,358.8 Q456.1,360.0 457.4,361.2" fill="none" stroke="#858589" stroke-width="0.8"/><path d="M460.2,342 Q461.5,343.2 460.2,344.4 Q458.9,345.6 460.2,346.8 Q461.5,348.0 460.2,349.2 Q458.9,350.4 460.2,351.6 Q461.5,352.8 460.2,354.0 Q458.9,355.2 460.2,356.4 Q461.5,357.6 460.2,358.8 Q458.9,360.0 460.2,361.2" fill="none" stroke="#858589" stroke-width="0.8"/><path d="M464.9,342 Q466.2,343.2 464.9,344.4 Q463.6,345.6 464.9,346.8 Q466.2,348.0 464.9,349.2 Q463.6,350.4 464.9,351.6 Q466.2,352.8 464.9,354.0 Q463.6,355.2 464.9,356.4 Q466.2,357.6 464.9,358.8 Q463.6,360.0 464.9,361.2" fill="none" stroke="#858589" stroke-width="0.8"/><path d="M467.6,342 Q468.9,343.2 467.6,344.4 Q466.3,345.6 467.6,346.8 Q468.9,348.0 467.6,349.2 Q466.3,350.4 467.6,351.6 Q468.9,352.8 467.6,354.0 Q466.3,355.2 467.6,356.4 Q468.9,357.6 467.6,358.8 Q466.3,360.0 467.6,361.2" fill="none" stroke="#858589" stroke-width="0.8"/><path d="M472.3,342 Q473.6,343.2 472.3,344.4 Q471.0,345.6 472.3,346.8 Q473.6,348.0 472.3,349.2 Q471.0,350.4 472.3,351.6 Q473.6,352.8 472.3,354.0 Q471.0,355.2 472.3,356.4 Q473.6,357.6 472.3,358.8 Q471.0,360.0 472.3,361.2" fill="none" stroke="#858589" stroke-width="0.8"/><path d="M475.1,342 Q476.4,343.2 475.1,344.4 Q473.8,345.6 475.1,346.8 Q476.4,348.0 475.1,349.2 Q473.8,350.4 475.1,351.6 Q476.4,352.8 475.1,354.0 Q473.8,355.2 475.1,356.4 Q476.4,357.6 475.1,358.8 Q473.8,360.0 475.1,361.2" fill="none" stroke="#858589" stroke-width="0.8"/><path d="M479.8,342 Q481.1,343.2 479.8,344.4 Q478.4,345.6 479.8,346.8 Q481.1,348.0 479.8,349.2 Q478.4,350.4 479.8,351.6 Q481.1,352.8 479.8,354.0 Q478.4,355.2 479.8,356.4 Q481.1,357.6 479.8,358.8 Q478.4,360.0 479.8,361.2" fill="none" stroke="#858589" stroke-width="0.8"/><path d="M482.5,342 Q483.8,343.2 482.5,344.4 Q481.2,345.6 482.5,346.8 Q483.8,348.0 482.5,349.2 Q481.2,350.4 482.5,351.6 Q483.8,352.8 482.5,354.0 Q481.2,355.2 482.5,356.4 Q483.8,357.6 482.5,358.8 Q481.2,360.0 482.5,361.2" fill="none" stroke="#858589" stroke-width="0.8"/><path d="M487.2,342 Q488.5,343.2 487.2,344.4 Q485.9,345.6 487.2,346.8 Q488.5,348.0 487.2,349.2 Q485.9,350.4 487.2,351.6 Q488.5,352.8 487.2,354.0 Q485.9,355.2 487.2,356.4 Q488.5,357.6 487.2,358.8 Q485.9,360.0 487.2,361.2" fill="none" stroke="#858589" stroke-width="0.8"/><path d="M490.0,342 Q491.3,343.2 490.0,344.4 Q488.7,345.6 490.0,346.8 Q491.3,348.0 490.0,349.2 Q488.7,350.4 490.0,351.6 Q491.3,352.8 490.0,354.0 Q488.7,355.2 490.0,356.4 Q491.3,357.6 490.0,358.8 Q488.7,360.0 490.0,361.2" fill="none" stroke="#858589" stroke-width="0.8"/><path d="M494.6,342 Q495.9,343.2 494.6,344.4 Q493.3,345.6 494.6,346.8 Q495.9,348.0 494.6,349.2 Q493.3,350.4 494.6,351.6 Q495.9,352.8 494.6,354.0 Q493.3,355.2 494.6,356.4 Q495.9,357.6 494.6,358.8 Q493.3,360.0 494.6,361.2" fill="none" stroke="#858589" stroke-width="0.8"/><path d="M497.4,342 Q498.7,343.2 497.4,344.4 Q496.1,345.6 497.4,346.8 Q498.7,348.0 497.4,349.2 Q496.1,350.4 497.4,351.6 Q498.7,352.8 497.4,354.0 Q496.1,355.2 497.4,356.4 Q498.7,357.6 497.4,358.8 Q496.1,360.0 497.4,361.2" fill="none" stroke="#858589" stroke-width="0.8"/><path d="M502.1,342 Q503.4,343.2 502.1,344.4 Q500.8,345.6 502.1,346.8 Q503.4,348.0 502.1,349.2 Q500.8,350.4 502.1,351.6 Q503.4,352.8 502.1,354.0 Q500.8,355.2 502.1,356.4 Q503.4,357.6 502.1,358.8 Q500.8,360.0 502.1,361.2" fill="none" stroke="#858589" stroke-width="0.8"/><path d="M504.9,342 Q506.2,343.2 504.9,344.4 Q503.6,345.6 504.9,346.8 Q506.2,348.0 504.9,349.2 Q503.6,350.4 504.9,351.6 Q506.2,352.8 504.9,354.0 Q503.6,355.2 504.9,356.4 Q506.2,357.6 504.9,358.8 Q503.6,360.0 504.9,361.2" fill="none" stroke="#858589" stroke-width="0.8"/><path d="M509.5,342 Q510.8,343.2 509.5,344.4 Q508.2,345.6 509.5,346.8 Q510.8,348.0 509.5,349.2 Q508.2,350.4 509.5,351.6 Q510.8,352.8 509.5,354.0 Q508.2,355.2 509.5,356.4 Q510.8,357.6 509.5,358.8 Q508.2,360.0 509.5,361.2" fill="none" stroke="#858589" stroke-width="0.8"/><path d="M512.3,342 Q513.6,343.2 512.3,344.4 Q511.0,345.6 512.3,346.8 Q513.6,348.0 512.3,349.2 Q511.0,350.4 512.3,351.6 Q513.6,352.8 512.3,354.0 Q511.0,355.2 512.3,356.4 Q513.6,357.6 512.3,358.8 Q511.0,360.0 512.3,361.2" fill="none" stroke="#858589" stroke-width="0.8"/><path d="M517.0,342 Q518.3,343.2 517.0,344.4 Q515.7,345.6 517.0,346.8 Q518.3,348.0 517.0,349.2 Q515.7,350.4 517.0,351.6 Q518.3,352.8 517.0,354.0 Q515.7,355.2 517.0,356.4 Q518.3,357.6 517.0,358.8 Q515.7,360.0 517.0,361.2" fill="none" stroke="#858589" stroke-width="0.8"/><path d="M519.8,342 Q521.1,343.2 519.8,344.4 Q518.5,345.6 519.8,346.8 Q521.1,348.0 519.8,349.2 Q518.5,350.4 519.8,351.6 Q521.1,352.8 519.8,354.0 Q518.5,355.2 519.8,356.4 Q521.1,357.6 519.8,358.8 Q518.5,360.0 519.8,361.2" fill="none" stroke="#858589" stroke-width="0.8"/><path d="M524.5,342 Q525.8,343.2 524.5,344.4 Q523.2,345.6 524.5,346.8 Q525.8,348.0 524.5,349.2 Q523.2,350.4 524.5,351.6 Q525.8,352.8 524.5,354.0 Q523.2,355.2 524.5,356.4 Q525.8,357.6 524.5,358.8 Q523.2,360.0 524.5,361.2" fill="none" stroke="#858589" stroke-width="0.8"/><path d="M527.2,342 Q528.5,343.2 527.2,344.4 Q526.0,345.6 527.2,346.8 Q528.5,348.0 527.2,349.2 Q526.0,350.4 527.2,351.6 Q528.5,352.8 527.2,354.0 Q526.0,355.2 527.2,356.4 Q528.5,357.6 527.2,358.8 Q526.0,360.0 527.2,361.2" fill="none" stroke="#858589" stroke-width="0.8"/><path d="M531.9,342 Q533.2,343.2 531.9,344.4 Q530.6,345.6 531.9,346.8 Q533.2,348.0 531.9,349.2 Q530.6,350.4 531.9,351.6 Q533.2,352.8 531.9,354.0 Q530.6,355.2 531.9,356.4 Q533.2,357.6 531.9,358.8 Q530.6,360.0 531.9,361.2" fill="none" stroke="#858589" stroke-width="0.8"/><path d="M534.7,342 Q536.0,343.2 534.7,344.4 Q533.4,345.6 534.7,346.8 Q536.0,348.0 534.7,349.2 Q533.4,350.4 534.7,351.6 Q536.0,352.8 534.7,354.0 Q533.4,355.2 534.7,356.4 Q536.0,357.6 534.7,358.8 Q533.4,360.0 534.7,361.2" fill="none" stroke="#858589" stroke-width="0.8"/><path d="M539.4,342 Q540.7,343.2 539.4,344.4 Q538.1,345.6 539.4,346.8 Q540.7,348.0 539.4,349.2 Q538.1,350.4 539.4,351.6 Q540.7,352.8 539.4,354.0 Q538.1,355.2 539.4,356.4 Q540.7,357.6 539.4,358.8 Q538.1,360.0 539.4,361.2" fill="none" stroke="#858589" stroke-width="0.8"/><path d="M542.2,342 Q543.5,343.2 542.2,344.4 Q540.9,345.6 542.2,346.8 Q543.5,348.0 542.2,349.2 Q540.9,350.4 542.2,351.6 Q543.5,352.8 542.2,354.0 Q540.9,355.2 542.2,356.4 Q543.5,357.6 542.2,358.8 Q540.9,360.0 542.2,361.2" fill="none" stroke="#858589" stroke-width="0.8"/><path d="M546.8,342 Q548.1,343.2 546.8,344.4 Q545.5,345.6 546.8,346.8 Q548.1,348.0 546.8,349.2 Q545.5,350.4 546.8,351.6 Q548.1,352.8 546.8,354.0 Q545.5,355.2 546.8,356.4 Q548.1,357.6 546.8,358.8 Q545.5,360.0 546.8,361.2" fill="none" stroke="#858589" stroke-width="0.8"/><path d="M549.6,342 Q550.9,343.2 549.6,344.4 Q548.3,345.6 549.6,346.8 Q550.9,348.0 549.6,349.2 Q548.3,350.4 549.6,351.6 Q550.9,352.8 549.6,354.0 Q548.3,355.2 549.6,356.4 Q550.9,357.6 549.6,358.8 Q548.3,360.0 549.6,361.2" fill="none" stroke="#858589" stroke-width="0.8"/><path d="M554.3,342 Q555.6,343.2 554.3,344.4 Q553.0,345.6 554.3,346.8 Q555.6,348.0 554.3,349.2 Q553.0,350.4 554.3,351.6 Q555.6,352.8 554.3,354.0 Q553.0,355.2 554.3,356.4 Q555.6,357.6 554.3,358.8 Q553.0,360.0 554.3,361.2" fill="none" stroke="#858589" stroke-width="0.8"/><path d="M557.1,342 Q558.4,343.2 557.1,344.4 Q555.8,345.6 557.1,346.8 Q558.4,348.0 557.1,349.2 Q555.8,350.4 557.1,351.6 Q558.4,352.8 557.1,354.0 Q555.8,355.2 557.1,356.4 Q558.4,357.6 557.1,358.8 Q555.8,360.0 557.1,361.2" fill="none" stroke="#858589" stroke-width="0.8"/><path d="M561.7,342 Q563.0,343.2 561.7,344.4 Q560.4,345.6 561.7,346.8 Q563.0,348.0 561.7,349.2 Q560.4,350.4 561.7,351.6 Q563.0,352.8 561.7,354.0 Q560.4,355.2 561.7,356.4 Q563.0,357.6 561.7,358.8 Q560.4,360.0 561.7,361.2" fill="none" stroke="#858589" stroke-width="0.8"/><path d="M564.5,342 Q565.8,343.2 564.5,344.4 Q563.2,345.6 564.5,346.8 Q565.8,348.0 564.5,349.2 Q563.2,350.4 564.5,351.6 Q565.8,352.8 564.5,354.0 Q563.2,355.2 564.5,356.4 Q565.8,357.6 564.5,358.8 Q563.2,360.0 564.5,361.2" fill="none" stroke="#858589" stroke-width="0.8"/><path d="M569.2,342 Q570.5,343.2 569.2,344.4 Q567.9,345.6 569.2,346.8 Q570.5,348.0 569.2,349.2 Q567.9,350.4 569.2,351.6 Q570.5,352.8 569.2,354.0 Q567.9,355.2 569.2,356.4 Q570.5,357.6 569.2,358.8 Q567.9,360.0 569.2,361.2" fill="none" stroke="#858589" stroke-width="0.8"/><path d="M572.0,342 Q573.3,343.2 572.0,344.4 Q570.7,345.6 572.0,346.8 Q573.3,348.0 572.0,349.2 Q570.7,350.4 572.0,351.6 Q573.3,352.8 572.0,354.0 Q570.7,355.2 572.0,356.4 Q573.3,357.6 572.0,358.8 Q570.7,360.0 572.0,361.2" fill="none" stroke="#858589" stroke-width="0.8"/><path d="M576.6,342 Q577.9,343.2 576.6,344.4 Q575.3,345.6 576.6,346.8 Q577.9,348.0 576.6,349.2 Q575.3,350.4 576.6,351.6 Q577.9,352.8 576.6,354.0 Q575.3,355.2 576.6,356.4 Q577.9,357.6 576.6,358.8 Q575.3,360.0 576.6,361.2" fill="none" stroke="#858589" stroke-width="0.8"/><path d="M579.4,342 Q580.7,343.2 579.4,344.4 Q578.1,345.6 579.4,346.8 Q580.7,348.0 579.4,349.2 Q578.1,350.4 579.4,351.6 Q580.7,352.8 579.4,354.0 Q578.1,355.2 579.4,356.4 Q580.7,357.6 579.4,358.8 Q578.1,360.0 579.4,361.2" fill="none" stroke="#858589" stroke-width="0.8"/><path d="M584.1,342 Q585.4,343.2 584.1,344.4 Q582.8,345.6 584.1,346.8 Q585.4,348.0 584.1,349.2 Q582.8,350.4 584.1,351.6 Q585.4,352.8 584.1,354.0 Q582.8,355.2 584.1,356.4 Q585.4,357.6 584.1,358.8 Q582.8,360.0 584.1,361.2" fill="none" stroke="#858589" stroke-width="0.8"/><path d="M586.9,342 Q588.2,343.2 586.9,344.4 Q585.6,345.6 586.9,346.8 Q588.2,348.0 586.9,349.2 Q585.6,350.4 586.9,351.6 Q588.2,352.8 586.9,354.0 Q585.6,355.2 586.9,356.4 Q588.2,357.6 586.9,358.8 Q585.6,360.0 586.9,361.2" fill="none" stroke="#858589" stroke-width="0.8"/><path d="M591.5,342 Q592.8,343.2 591.5,344.4 Q590.2,345.6 591.5,346.8 Q592.8,348.0 591.5,349.2 Q590.2,350.4 591.5,351.6 Q592.8,352.8 591.5,354.0 Q590.2,355.2 591.5,356.4 Q592.8,357.6 591.5,358.8 Q590.2,360.0 591.5,361.2" fill="none" stroke="#858589" stroke-width="0.8"/><path d="M594.3,342 Q595.6,343.2 594.3,344.4 Q593.0,345.6 594.3,346.8 Q595.6,348.0 594.3,349.2 Q593.0,350.4 594.3,351.6 Q595.6,352.8 594.3,354.0 Q593.0,355.2 594.3,356.4 Q595.6,357.6 594.3,358.8 Q593.0,360.0 594.3,361.2" fill="none" stroke="#858589" stroke-width="0.8"/><path d="M599.0,342 Q600.3,343.2 599.0,344.4 Q597.7,345.6 599.0,346.8 Q600.3,348.0 599.0,349.2 Q597.7,350.4 599.0,351.6 Q600.3,352.8 599.0,354.0 Q597.7,355.2 599.0,356.4 Q600.3,357.6 599.0,358.8 Q597.7,360.0 599.0,361.2" fill="none" stroke="#858589" stroke-width="0.8"/><path d="M601.8,342 Q603.1,343.2 601.8,344.4 Q600.5,345.6 601.8,346.8 Q603.1,348.0 601.8,349.2 Q600.5,350.4 601.8,351.6 Q603.1,352.8 601.8,354.0 Q600.5,355.2 601.8,356.4 Q603.1,357.6 601.8,358.8 Q600.5,360.0 601.8,361.2" fill="none" stroke="#858589" stroke-width="0.8"/><path d="M606.4,342 Q607.7,343.2 606.4,344.4 Q605.1,345.6 606.4,346.8 Q607.7,348.0 606.4,349.2 Q605.1,350.4 606.4,351.6 Q607.7,352.8 606.4,354.0 Q605.1,355.2 606.4,356.4 Q607.7,357.6 606.4,358.8 Q605.1,360.0 606.4,361.2" fill="none" stroke="#858589" stroke-width="0.8"/><path d="M609.2,342 Q610.5,343.2 609.2,344.4 Q607.9,345.6 609.2,346.8 Q610.5,348.0 609.2,349.2 Q607.9,350.4 609.2,351.6 Q610.5,352.8 609.2,354.0 Q607.9,355.2 609.2,356.4 Q610.5,357.6 609.2,358.8 Q607.9,360.0 609.2,361.2" fill="none" stroke="#858589" stroke-width="0.8"/><path d="M613.9,342 Q615.2,343.2 613.9,344.4 Q612.6,345.6 613.9,346.8 Q615.2,348.0 613.9,349.2 Q612.6,350.4 613.9,351.6 Q615.2,352.8 613.9,354.0 Q612.6,355.2 613.9,356.4 Q615.2,357.6 613.9,358.8 Q612.6,360.0 613.9,361.2" fill="none" stroke="#858589" stroke-width="0.8"/><path d="M616.7,342 Q618.0,343.2 616.7,344.4 Q615.4,345.6 616.7,346.8 Q618.0,348.0 616.7,349.2 Q615.4,350.4 616.7,351.6 Q618.0,352.8 616.7,354.0 Q615.4,355.2 616.7,356.4 Q618.0,357.6 616.7,358.8 Q615.4,360.0 616.7,361.2" fill="none" stroke="#858589" stroke-width="0.8"/><path d="M621.3,342 Q622.6,343.2 621.3,344.4 Q620.0,345.6 621.3,346.8 Q622.6,348.0 621.3,349.2 Q620.0,350.4 621.3,351.6 Q622.6,352.8 621.3,354.0 Q620.0,355.2 621.3,356.4 Q622.6,357.6 621.3,358.8 Q620.0,360.0 621.3,361.2" fill="none" stroke="#858589" stroke-width="0.8"/><path d="M624.1,342 Q625.4,343.2 624.1,344.4 Q622.8,345.6 624.1,346.8 Q625.4,348.0 624.1,349.2 Q622.8,350.4 624.1,351.6 Q625.4,352.8 624.1,354.0 Q622.8,355.2 624.1,356.4 Q625.4,357.6 624.1,358.8 Q622.8,360.0 624.1,361.2" fill="none" stroke="#858589" stroke-width="0.8"/><path d="M628.8,342 Q630.1,343.2 628.8,344.4 Q627.5,345.6 628.8,346.8 Q630.1,348.0 628.8,349.2 Q627.5,350.4 628.8,351.6 Q630.1,352.8 628.8,354.0 Q627.5,355.2 628.8,356.4 Q630.1,357.6 628.8,358.8 Q627.5,360.0 628.8,361.2" fill="none" stroke="#858589" stroke-width="0.8"/><path d="M631.6,342 Q632.9,343.2 631.6,344.4 Q630.3,345.6 631.6,346.8 Q632.9,348.0 631.6,349.2 Q630.3,350.4 631.6,351.6 Q632.9,352.8 631.6,354.0 Q630.3,355.2 631.6,356.4 Q632.9,357.6 631.6,358.8 Q630.3,360.0 631.6,361.2" fill="none" stroke="#858589" stroke-width="0.8"/><path d="M636.2,342 Q637.5,343.2 636.2,344.4 Q634.9,345.6 636.2,346.8 Q637.5,348.0 636.2,349.2 Q634.9,350.4 636.2,351.6 Q637.5,352.8 636.2,354.0 Q634.9,355.2 636.2,356.4 Q637.5,357.6 636.2,358.8 Q634.9,360.0 636.2,361.2" fill="none" stroke="#858589" stroke-width="0.8"/><path d="M639.0,342 Q640.3,343.2 639.0,344.4 Q637.7,345.6 639.0,346.8 Q640.3,348.0 639.0,349.2 Q637.7,350.4 639.0,351.6 Q640.3,352.8 639.0,354.0 Q637.7,355.2 639.0,356.4 Q640.3,357.6 639.0,358.8 Q637.7,360.0 639.0,361.2" fill="none" stroke="#858589" stroke-width="0.8"/><path d="M643.7,342 Q645.0,343.2 643.7,344.4 Q642.4,345.6 643.7,346.8 Q645.0,348.0 643.7,349.2 Q642.4,350.4 643.7,351.6 Q645.0,352.8 643.7,354.0 Q642.4,355.2 643.7,356.4 Q645.0,357.6 643.7,358.8 Q642.4,360.0 643.7,361.2" fill="none" stroke="#858589" stroke-width="0.8"/><path d="M646.5,342 Q647.8,343.2 646.5,344.4 Q645.2,345.6 646.5,346.8 Q647.8,348.0 646.5,349.2 Q645.2,350.4 646.5,351.6 Q647.8,352.8 646.5,354.0 Q645.2,355.2 646.5,356.4 Q647.8,357.6 646.5,358.8 Q645.2,360.0 646.5,361.2" fill="none" stroke="#858589" stroke-width="0.8"/><path d="M651.1,342 Q652.4,343.2 651.1,344.4 Q649.8,345.6 651.1,346.8 Q652.4,348.0 651.1,349.2 Q649.8,350.4 651.1,351.6 Q652.4,352.8 651.1,354.0 Q649.8,355.2 651.1,356.4 Q652.4,357.6 651.1,358.8 Q649.8,360.0 651.1,361.2" fill="none" stroke="#858589" stroke-width="0.8"/><path d="M653.9,342 Q655.2,343.2 653.9,344.4 Q652.6,345.6 653.9,346.8 Q655.2,348.0 653.9,349.2 Q652.6,350.4 653.9,351.6 Q655.2,352.8 653.9,354.0 Q652.6,355.2 653.9,356.4 Q655.2,357.6 653.9,358.8 Q652.6,360.0 653.9,361.2" fill="none" stroke="#858589" stroke-width="0.8"/><path d="M658.6,342 Q659.9,343.2 658.6,344.4 Q657.3,345.6 658.6,346.8 Q659.9,348.0 658.6,349.2 Q657.3,350.4 658.6,351.6 Q659.9,352.8 658.6,354.0 Q657.3,355.2 658.6,356.4 Q659.9,357.6 658.6,358.8 Q657.3,360.0 658.6,361.2" fill="none" stroke="#858589" stroke-width="0.8"/><path d="M661.4,342 Q662.7,343.2 661.4,344.4 Q660.1,345.6 661.4,346.8 Q662.7,348.0 661.4,349.2 Q660.1,350.4 661.4,351.6 Q662.7,352.8 661.4,354.0 Q660.1,355.2 661.4,356.4 Q662.7,357.6 661.4,358.8 Q660.1,360.0 661.4,361.2" fill="none" stroke="#858589" stroke-width="0.8"/><path d="M666.0,342 Q667.3,343.2 666.0,344.4 Q664.7,345.6 666.0,346.8 Q667.3,348.0 666.0,349.2 Q664.7,350.4 666.0,351.6 Q667.3,352.8 666.0,354.0 Q664.7,355.2 666.0,356.4 Q667.3,357.6 666.0,358.8 Q664.7,360.0 666.0,361.2" fill="none" stroke="#858589" stroke-width="0.8"/><path d="M668.8,342 Q670.1,343.2 668.8,344.4 Q667.5,345.6 668.8,346.8 Q670.1,348.0 668.8,349.2 Q667.5,350.4 668.8,351.6 Q670.1,352.8 668.8,354.0 Q667.5,355.2 668.8,356.4 Q670.1,357.6 668.8,358.8 Q667.5,360.0 668.8,361.2" fill="none" stroke="#858589" stroke-width="0.8"/><path d="M673.5,342 Q674.8,343.2 673.5,344.4 Q672.2,345.6 673.5,346.8 Q674.8,348.0 673.5,349.2 Q672.2,350.4 673.5,351.6 Q674.8,352.8 673.5,354.0 Q672.2,355.2 673.5,356.4 Q674.8,357.6 673.5,358.8 Q672.2,360.0 673.5,361.2" fill="none" stroke="#858589" stroke-width="0.8"/><path d="M676.3,342 Q677.6,343.2 676.3,344.4 Q675.0,345.6 676.3,346.8 Q677.6,348.0 676.3,349.2 Q675.0,350.4 676.3,351.6 Q677.6,352.8 676.3,354.0 Q675.0,355.2 676.3,356.4 Q677.6,357.6 676.3,358.8 Q675.0,360.0 676.3,361.2" fill="none" stroke="#858589" stroke-width="0.8"/><path d="M680.9,342 Q682.2,343.2 680.9,344.4 Q679.6,345.6 680.9,346.8 Q682.2,348.0 680.9,349.2 Q679.6,350.4 680.9,351.6 Q682.2,352.8 680.9,354.0 Q679.6,355.2 680.9,356.4 Q682.2,357.6 680.9,358.8 Q679.6,360.0 680.9,361.2" fill="none" stroke="#858589" stroke-width="0.8"/><path d="M683.7,342 Q685.0,343.2 683.7,344.4 Q682.4,345.6 683.7,346.8 Q685.0,348.0 683.7,349.2 Q682.4,350.4 683.7,351.6 Q685.0,352.8 683.7,354.0 Q682.4,355.2 683.7,356.4 Q685.0,357.6 683.7,358.8 Q682.4,360.0 683.7,361.2" fill="none" stroke="#858589" stroke-width="0.8"/><path d="M688.4,342 Q689.7,343.2 688.4,344.4 Q687.1,345.6 688.4,346.8 Q689.7,348.0 688.4,349.2 Q687.1,350.4 688.4,351.6 Q689.7,352.8 688.4,354.0 Q687.1,355.2 688.4,356.4 Q689.7,357.6 688.4,358.8 Q687.1,360.0 688.4,361.2" fill="none" stroke="#858589" stroke-width="0.8"/><path d="M691.2,342 Q692.5,343.2 691.2,344.4 Q689.9,345.6 691.2,346.8 Q692.5,348.0 691.2,349.2 Q689.9,350.4 691.2,351.6 Q692.5,352.8 691.2,354.0 Q689.9,355.2 691.2,356.4 Q692.5,357.6 691.2,358.8 Q689.9,360.0 691.2,361.2" fill="none" stroke="#858589" stroke-width="0.8"/><path d="M695.8,342 Q697.1,343.2 695.8,344.4 Q694.5,345.6 695.8,346.8 Q697.1,348.0 695.8,349.2 Q694.5,350.4 695.8,351.6 Q697.1,352.8 695.8,354.0 Q694.5,355.2 695.8,356.4 Q697.1,357.6 695.8,358.8 Q694.5,360.0 695.8,361.2" fill="none" stroke="#858589" stroke-width="0.8"/><path d="M698.6,342 Q699.9,343.2 698.6,344.4 Q697.3,345.6 698.6,346.8 Q699.9,348.0 698.6,349.2 Q697.3,350.4 698.6,351.6 Q699.9,352.8 698.6,354.0 Q697.3,355.2 698.6,356.4 Q699.9,357.6 698.6,358.8 Q697.3,360.0 698.6,361.2" fill="none" stroke="#858589" stroke-width="0.8"/><path d="M703.3,342 Q704.6,343.2 703.3,344.4 Q702.0,345.6 703.3,346.8 Q704.6,348.0 703.3,349.2 Q702.0,350.4 703.3,351.6 Q704.6,352.8 703.3,354.0 Q702.0,355.2 703.3,356.4 Q704.6,357.6 703.3,358.8 Q702.0,360.0 703.3,361.2" fill="none" stroke="#858589" stroke-width="0.8"/><path d="M706.1,342 Q707.4,343.2 706.1,344.4 Q704.8,345.6 706.1,346.8 Q707.4,348.0 706.1,349.2 Q704.8,350.4 706.1,351.6 Q707.4,352.8 706.1,354.0 Q704.8,355.2 706.1,356.4 Q707.4,357.6 706.1,358.8 Q704.8,360.0 706.1,361.2" fill="none" stroke="#858589" stroke-width="0.8"/><path d="M710.7,342 Q712.0,343.2 710.7,344.4 Q709.4,345.6 710.7,346.8 Q712.0,348.0 710.7,349.2 Q709.4,350.4 710.7,351.6 Q712.0,352.8 710.7,354.0 Q709.4,355.2 710.7,356.4 Q712.0,357.6 710.7,358.8 Q709.4,360.0 710.7,361.2" fill="none" stroke="#858589" stroke-width="0.8"/><path d="M713.5,342 Q714.8,343.2 713.5,344.4 Q712.2,345.6 713.5,346.8 Q714.8,348.0 713.5,349.2 Q712.2,350.4 713.5,351.6 Q714.8,352.8 713.5,354.0 Q712.2,355.2 713.5,356.4 Q714.8,357.6 713.5,358.8 Q712.2,360.0 713.5,361.2" fill="none" stroke="#858589" stroke-width="0.8"/><path d="M718.2,342 Q719.5,343.2 718.2,344.4 Q716.9,345.6 718.2,346.8 Q719.5,348.0 718.2,349.2 Q716.9,350.4 718.2,351.6 Q719.5,352.8 718.2,354.0 Q716.9,355.2 718.2,356.4 Q719.5,357.6 718.2,358.8 Q716.9,360.0 718.2,361.2" fill="none" stroke="#858589" stroke-width="0.8"/><path d="M721.0,342 Q722.3,343.2 721.0,344.4 Q719.7,345.6 721.0,346.8 Q722.3,348.0 721.0,349.2 Q719.7,350.4 721.0,351.6 Q722.3,352.8 721.0,354.0 Q719.7,355.2 721.0,356.4 Q722.3,357.6 721.0,358.8 Q719.7,360.0 721.0,361.2" fill="none" stroke="#858589" stroke-width="0.8"/><path d="M725.6,342 Q726.9,343.2 725.6,344.4 Q724.3,345.6 725.6,346.8 Q726.9,348.0 725.6,349.2 Q724.3,350.4 725.6,351.6 Q726.9,352.8 725.6,354.0 Q724.3,355.2 725.6,356.4 Q726.9,357.6 725.6,358.8 Q724.3,360.0 725.6,361.2" fill="none" stroke="#858589" stroke-width="0.8"/><path d="M728.4,342 Q729.7,343.2 728.4,344.4 Q727.1,345.6 728.4,346.8 Q729.7,348.0 728.4,349.2 Q727.1,350.4 728.4,351.6 Q729.7,352.8 728.4,354.0 Q727.1,355.2 728.4,356.4 Q729.7,357.6 728.4,358.8 Q727.1,360.0 728.4,361.2" fill="none" stroke="#858589" stroke-width="0.8"/><path d="M733.1,342 Q734.4,343.2 733.1,344.4 Q731.8,345.6 733.1,346.8 Q734.4,348.0 733.1,349.2 Q731.8,350.4 733.1,351.6 Q734.4,352.8 733.1,354.0 Q731.8,355.2 733.1,356.4 Q734.4,357.6 733.1,358.8 Q731.8,360.0 733.1,361.2" fill="none" stroke="#858589" stroke-width="0.8"/><path d="M735.9,342 Q737.2,343.2 735.9,344.4 Q734.6,345.6 735.9,346.8 Q737.2,348.0 735.9,349.2 Q734.6,350.4 735.9,351.6 Q737.2,352.8 735.9,354.0 Q734.6,355.2 735.9,356.4 Q737.2,357.6 735.9,358.8 Q734.6,360.0 735.9,361.2" fill="none" stroke="#858589" stroke-width="0.8"/><path d="M740.5,342 Q741.8,343.2 740.5,344.4 Q739.2,345.6 740.5,346.8 Q741.8,348.0 740.5,349.2 Q739.2,350.4 740.5,351.6 Q741.8,352.8 740.5,354.0 Q739.2,355.2 740.5,356.4 Q741.8,357.6 740.5,358.8 Q739.2,360.0 740.5,361.2" fill="none" stroke="#858589" stroke-width="0.8"/><path d="M743.3,342 Q744.6,343.2 743.3,344.4 Q742.0,345.6 743.3,346.8 Q744.6,348.0 743.3,349.2 Q742.0,350.4 743.3,351.6 Q744.6,352.8 743.3,354.0 Q742.0,355.2 743.3,356.4 Q744.6,357.6 743.3,358.8 Q742.0,360.0 743.3,361.2" fill="none" stroke="#858589" stroke-width="0.8"/><path d="M748.0,342 Q749.3,343.2 748.0,344.4 Q746.7,345.6 748.0,346.8 Q749.3,348.0 748.0,349.2 Q746.7,350.4 748.0,351.6 Q749.3,352.8 748.0,354.0 Q746.7,355.2 748.0,356.4 Q749.3,357.6 748.0,358.8 Q746.7,360.0 748.0,361.2" fill="none" stroke="#858589" stroke-width="0.8"/><path d="M750.8,342 Q752.1,343.2 750.8,344.4 Q749.5,345.6 750.8,346.8 Q752.1,348.0 750.8,349.2 Q749.5,350.4 750.8,351.6 Q752.1,352.8 750.8,354.0 Q749.5,355.2 750.8,356.4 Q752.1,357.6 750.8,358.8 Q749.5,360.0 750.8,361.2" fill="none" stroke="#858589" stroke-width="0.8"/><path d="M755.4,342 Q756.7,343.2 755.4,344.4 Q754.1,345.6 755.4,346.8 Q756.7,348.0 755.4,349.2 Q754.1,350.4 755.4,351.6 Q756.7,352.8 755.4,354.0 Q754.1,355.2 755.4,356.4 Q756.7,357.6 755.4,358.8 Q754.1,360.0 755.4,361.2" fill="none" stroke="#858589" stroke-width="0.8"/><path d="M758.2,342 Q759.5,343.2 758.2,344.4 Q756.9,345.6 758.2,346.8 Q759.5,348.0 758.2,349.2 Q756.9,350.4 758.2,351.6 Q759.5,352.8 758.2,354.0 Q756.9,355.2 758.2,356.4 Q759.5,357.6 758.2,358.8 Q756.9,360.0 758.2,361.2" fill="none" stroke="#858589" stroke-width="0.8"/><path d="M762.9,342 Q764.2,343.2 762.9,344.4 Q761.6,345.6 762.9,346.8 Q764.2,348.0 762.9,349.2 Q761.6,350.4 762.9,351.6 Q764.2,352.8 762.9,354.0 Q761.6,355.2 762.9,356.4 Q764.2,357.6 762.9,358.8 Q761.6,360.0 762.9,361.2" fill="none" stroke="#858589" stroke-width="0.8"/><path d="M765.7,342 Q767.0,343.2 765.7,344.4 Q764.4,345.6 765.7,346.8 Q767.0,348.0 765.7,349.2 Q764.4,350.4 765.7,351.6 Q767.0,352.8 765.7,354.0 Q764.4,355.2 765.7,356.4 Q767.0,357.6 765.7,358.8 Q764.4,360.0 765.7,361.2" fill="none" stroke="#858589" stroke-width="0.8"/><path d="M770.3,342 Q771.6,343.2 770.3,344.4 Q769.0,345.6 770.3,346.8 Q771.6,348.0 770.3,349.2 Q769.0,350.4 770.3,351.6 Q771.6,352.8 770.3,354.0 Q769.0,355.2 770.3,356.4 Q771.6,357.6 770.3,358.8 Q769.0,360.0 770.3,361.2" fill="none" stroke="#858589" stroke-width="0.8"/><path d="M773.1,342 Q774.4,343.2 773.1,344.4 Q771.8,345.6 773.1,346.8 Q774.4,348.0 773.1,349.2 Q771.8,350.4 773.1,351.6 Q774.4,352.8 773.1,354.0 Q771.8,355.2 773.1,356.4 Q774.4,357.6 773.1,358.8 Q771.8,360.0 773.1,361.2" fill="none" stroke="#858589" stroke-width="0.8"/>
<circle cx="458.8" cy="338.8" r="3.35" fill="#b8d9df" stroke="#84aab3" stroke-width="0.9"/>
<circle cx="458.8" cy="363.2" r="3.35" fill="#b8d9df" stroke="#84aab3" stroke-width="0.9"/>
<circle cx="466.2" cy="338.8" r="3.35" fill="#b8d9df" stroke="#84aab3" stroke-width="0.9"/>
<circle cx="466.2" cy="363.2" r="3.35" fill="#b8d9df" stroke="#84aab3" stroke-width="0.9"/>
<circle cx="473.7" cy="338.8" r="3.35" fill="#b8d9df" stroke="#84aab3" stroke-width="0.9"/>
<circle cx="473.7" cy="363.2" r="3.35" fill="#b8d9df" stroke="#84aab3" stroke-width="0.9"/>
<circle cx="481.1" cy="338.8" r="3.35" fill="#b8d9df" stroke="#84aab3" stroke-width="0.9"/>
<circle cx="481.1" cy="363.2" r="3.35" fill="#b8d9df" stroke="#84aab3" stroke-width="0.9"/>
<circle cx="488.6" cy="338.8" r="3.35" fill="#b8d9df" stroke="#84aab3" stroke-width="0.9"/>
<circle cx="488.6" cy="363.2" r="3.35" fill="#b8d9df" stroke="#84aab3" stroke-width="0.9"/>
<circle cx="496.0" cy="338.8" r="3.35" fill="#b8d9df" stroke="#84aab3" stroke-width="0.9"/>
<circle cx="496.0" cy="363.2" r="3.35" fill="#b8d9df" stroke="#84aab3" stroke-width="0.9"/>
<circle cx="503.5" cy="338.8" r="3.35" fill="#b8d9df" stroke="#84aab3" stroke-width="0.9"/>
<circle cx="503.5" cy="363.2" r="3.35" fill="#b8d9df" stroke="#84aab3" stroke-width="0.9"/>
<circle cx="510.9" cy="338.8" r="3.35" fill="#b8d9df" stroke="#84aab3" stroke-width="0.9"/>
<circle cx="510.9" cy="363.2" r="3.35" fill="#b8d9df" stroke="#84aab3" stroke-width="0.9"/>
<circle cx="518.4" cy="338.8" r="3.35" fill="#b8d9df" stroke="#84aab3" stroke-width="0.9"/>
<circle cx="518.4" cy="363.2" r="3.35" fill="#b8d9df" stroke="#84aab3" stroke-width="0.9"/>
<circle cx="525.9" cy="338.8" r="3.35" fill="#b8d9df" stroke="#84aab3" stroke-width="0.9"/>
<circle cx="525.9" cy="363.2" r="3.35" fill="#b8d9df" stroke="#84aab3" stroke-width="0.9"/>
<circle cx="533.3" cy="338.8" r="3.35" fill="#b8d9df" stroke="#84aab3" stroke-width="0.9"/>
<circle cx="533.3" cy="363.2" r="3.35" fill="#b8d9df" stroke="#84aab3" stroke-width="0.9"/>
<circle cx="540.8" cy="338.8" r="3.35" fill="#b8d9df" stroke="#84aab3" stroke-width="0.9"/>
<circle cx="540.8" cy="363.2" r="3.35" fill="#b8d9df" stroke="#84aab3" stroke-width="0.9"/>
<circle cx="548.2" cy="338.8" r="3.35" fill="#b8d9df" stroke="#84aab3" stroke-width="0.9"/>
<circle cx="548.2" cy="363.2" r="3.35" fill="#b8d9df" stroke="#84aab3" stroke-width="0.9"/>
<circle cx="555.7" cy="338.8" r="3.35" fill="#b8d9df" stroke="#84aab3" stroke-width="0.9"/>
<circle cx="555.7" cy="363.2" r="3.35" fill="#b8d9df" stroke="#84aab3" stroke-width="0.9"/>
<circle cx="563.1" cy="338.8" r="3.35" fill="#b8d9df" stroke="#84aab3" stroke-width="0.9"/>
<circle cx="563.1" cy="363.2" r="3.35" fill="#b8d9df" stroke="#84aab3" stroke-width="0.9"/>
<circle cx="570.6" cy="338.8" r="3.35" fill="#b8d9df" stroke="#84aab3" stroke-width="0.9"/>
<circle cx="570.6" cy="363.2" r="3.35" fill="#b8d9df" stroke="#84aab3" stroke-width="0.9"/>
<circle cx="578.0" cy="338.8" r="3.35" fill="#b8d9df" stroke="#84aab3" stroke-width="0.9"/>
<circle cx="578.0" cy="363.2" r="3.35" fill="#b8d9df" stroke="#84aab3" stroke-width="0.9"/>
<circle cx="585.5" cy="338.8" r="3.35" fill="#b8d9df" stroke="#84aab3" stroke-width="0.9"/>
<circle cx="585.5" cy="363.2" r="3.35" fill="#b8d9df" stroke="#84aab3" stroke-width="0.9"/>
<circle cx="592.9" cy="338.8" r="3.35" fill="#b8d9df" stroke="#84aab3" stroke-width="0.9"/>
<circle cx="592.9" cy="363.2" r="3.35" fill="#b8d9df" stroke="#84aab3" stroke-width="0.9"/>
<circle cx="600.4" cy="338.8" r="3.35" fill="#b8d9df" stroke="#84aab3" stroke-width="0.9"/>
<circle cx="600.4" cy="363.2" r="3.35" fill="#b8d9df" stroke="#84aab3" stroke-width="0.9"/>
<circle cx="607.8" cy="338.8" r="3.35" fill="#b8d9df" stroke="#84aab3" stroke-width="0.9"/>
<circle cx="607.8" cy="363.2" r="3.35" fill="#b8d9df" stroke="#84aab3" stroke-width="0.9"/>
<circle cx="615.3" cy="338.8" r="3.35" fill="#b8d9df" stroke="#84aab3" stroke-width="0.9"/>
<circle cx="615.3" cy="363.2" r="3.35" fill="#b8d9df" stroke="#84aab3" stroke-width="0.9"/>
<circle cx="622.7" cy="338.8" r="3.35" fill="#b8d9df" stroke="#84aab3" stroke-width="0.9"/>
<circle cx="622.7" cy="363.2" r="3.35" fill="#b8d9df" stroke="#84aab3" stroke-width="0.9"/>
<circle cx="630.2" cy="338.8" r="3.35" fill="#b8d9df" stroke="#84aab3" stroke-width="0.9"/>
<circle cx="630.2" cy="363.2" r="3.35" fill="#b8d9df" stroke="#84aab3" stroke-width="0.9"/>
<circle cx="637.6" cy="338.8" r="3.35" fill="#b8d9df" stroke="#84aab3" stroke-width="0.9"/>
<circle cx="637.6" cy="363.2" r="3.35" fill="#b8d9df" stroke="#84aab3" stroke-width="0.9"/>
<circle cx="645.1" cy="338.8" r="3.35" fill="#b8d9df" stroke="#84aab3" stroke-width="0.9"/>
<circle cx="645.1" cy="363.2" r="3.35" fill="#b8d9df" stroke="#84aab3" stroke-width="0.9"/>
<circle cx="652.5" cy="338.8" r="3.35" fill="#b8d9df" stroke="#84aab3" stroke-width="0.9"/>
<circle cx="652.5" cy="363.2" r="3.35" fill="#b8d9df" stroke="#84aab3" stroke-width="0.9"/>
<circle cx="660.0" cy="338.8" r="3.35" fill="#b8d9df" stroke="#84aab3" stroke-width="0.9"/>
<circle cx="660.0" cy="363.2" r="3.35" fill="#b8d9df" stroke="#84aab3" stroke-width="0.9"/>
<circle cx="667.4" cy="338.8" r="3.35" fill="#b8d9df" stroke="#84aab3" stroke-width="0.9"/>
<circle cx="667.4" cy="363.2" r="3.35" fill="#b8d9df" stroke="#84aab3" stroke-width="0.9"/>
<circle cx="674.9" cy="338.8" r="3.35" fill="#b8d9df" stroke="#84aab3" stroke-width="0.9"/>
<circle cx="674.9" cy="363.2" r="3.35" fill="#b8d9df" stroke="#84aab3" stroke-width="0.9"/>
<circle cx="682.3" cy="338.8" r="3.35" fill="#b8d9df" stroke="#84aab3" stroke-width="0.9"/>
<circle cx="682.3" cy="363.2" r="3.35" fill="#b8d9df" stroke="#84aab3" stroke-width="0.9"/>
<circle cx="689.8" cy="338.8" r="3.35" fill="#b8d9df" stroke="#84aab3" stroke-width="0.9"/>
<circle cx="689.8" cy="363.2" r="3.35" fill="#b8d9df" stroke="#84aab3" stroke-width="0.9"/>
<circle cx="697.2" cy="338.8" r="3.35" fill="#b8d9df" stroke="#84aab3" stroke-width="0.9"/>
<circle cx="697.2" cy="363.2" r="3.35" fill="#b8d9df" stroke="#84aab3" stroke-width="0.9"/>
<circle cx="704.7" cy="338.8" r="3.35" fill="#b8d9df" stroke="#84aab3" stroke-width="0.9"/>
<circle cx="704.7" cy="363.2" r="3.35" fill="#b8d9df" stroke="#84aab3" stroke-width="0.9"/>
<circle cx="712.1" cy="338.8" r="3.35" fill="#b8d9df" stroke="#84aab3" stroke-width="0.9"/>
<circle cx="712.1" cy="363.2" r="3.35" fill="#b8d9df" stroke="#84aab3" stroke-width="0.9"/>
<circle cx="719.6" cy="338.8" r="3.35" fill="#b8d9df" stroke="#84aab3" stroke-width="0.9"/>
<circle cx="719.6" cy="363.2" r="3.35" fill="#b8d9df" stroke="#84aab3" stroke-width="0.9"/>
<circle cx="727.0" cy="338.8" r="3.35" fill="#b8d9df" stroke="#84aab3" stroke-width="0.9"/>
<circle cx="727.0" cy="363.2" r="3.35" fill="#b8d9df" stroke="#84aab3" stroke-width="0.9"/>
<circle cx="734.5" cy="338.8" r="3.35" fill="#b8d9df" stroke="#84aab3" stroke-width="0.9"/>
<circle cx="734.5" cy="363.2" r="3.35" fill="#b8d9df" stroke="#84aab3" stroke-width="0.9"/>
<circle cx="741.9" cy="338.8" r="3.35" fill="#b8d9df" stroke="#84aab3" stroke-width="0.9"/>
<circle cx="741.9" cy="363.2" r="3.35" fill="#b8d9df" stroke="#84aab3" stroke-width="0.9"/>
<circle cx="749.4" cy="338.8" r="3.35" fill="#b8d9df" stroke="#84aab3" stroke-width="0.9"/>
<circle cx="749.4" cy="363.2" r="3.35" fill="#b8d9df" stroke="#84aab3" stroke-width="0.9"/>
<circle cx="756.8" cy="338.8" r="3.35" fill="#b8d9df" stroke="#84aab3" stroke-width="0.9"/>
<circle cx="756.8" cy="363.2" r="3.35" fill="#b8d9df" stroke="#84aab3" stroke-width="0.9"/>
<circle cx="764.3" cy="338.8" r="3.35" fill="#b8d9df" stroke="#84aab3" stroke-width="0.9"/>
<circle cx="764.3" cy="363.2" r="3.35" fill="#b8d9df" stroke="#84aab3" stroke-width="0.9"/>
<circle cx="771.7" cy="338.8" r="3.35" fill="#b8d9df" stroke="#84aab3" stroke-width="0.9"/>
<circle cx="771.7" cy="363.2" r="3.35" fill="#b8d9df" stroke="#84aab3" stroke-width="0.9"/>
<circle cx="534.6" cy="277.5" r="16" fill="#fff"/>
<circle cx="534.6" cy="277.5" r="20.6" fill="none" stroke="#fbe6d8" stroke-width="7.7"/><line x1="557.7" y1="277.5" x2="552.8" y2="277.5" stroke="#f3c9ad" stroke-width="0.7"/><line x1="557.5" y1="280.4" x2="552.7" y2="279.8" stroke="#f3c9ad" stroke-width="0.7"/><line x1="557.0" y1="283.2" x2="552.2" y2="282.0" stroke="#f3c9ad" stroke-width="0.7"/><line x1="556.1" y1="286.0" x2="551.5" y2="284.2" stroke="#f3c9ad" stroke-width="0.7"/><line x1="554.8" y1="288.6" x2="550.5" y2="286.3" stroke="#f3c9ad" stroke-width="0.7"/><line x1="553.3" y1="291.1" x2="549.3" y2="288.2" stroke="#f3c9ad" stroke-width="0.7"/><line x1="551.4" y1="293.3" x2="547.9" y2="290.0" stroke="#f3c9ad" stroke-width="0.7"/><line x1="549.3" y1="295.3" x2="546.2" y2="291.5" stroke="#f3c9ad" stroke-width="0.7"/><line x1="547.0" y1="297.0" x2="544.4" y2="292.9" stroke="#f3c9ad" stroke-width="0.7"/><line x1="544.4" y1="298.4" x2="542.3" y2="294.0" stroke="#f3c9ad" stroke-width="0.7"/><line x1="541.7" y1="299.5" x2="540.2" y2="294.8" stroke="#f3c9ad" stroke-width="0.7"/><line x1="538.9" y1="300.2" x2="538.0" y2="295.4" stroke="#f3c9ad" stroke-width="0.7"/><line x1="536.1" y1="300.6" x2="535.7" y2="295.7" stroke="#f3c9ad" stroke-width="0.7"/><line x1="533.1" y1="300.6" x2="533.5" y2="295.7" stroke="#f3c9ad" stroke-width="0.7"/><line x1="530.3" y1="300.2" x2="531.2" y2="295.4" stroke="#f3c9ad" stroke-width="0.7"/><line x1="527.5" y1="299.5" x2="529.0" y2="294.8" stroke="#f3c9ad" stroke-width="0.7"/><line x1="524.8" y1="298.4" x2="526.9" y2="294.0" stroke="#f3c9ad" stroke-width="0.7"/><line x1="522.2" y1="297.0" x2="524.8" y2="292.9" stroke="#f3c9ad" stroke-width="0.7"/><line x1="519.9" y1="295.3" x2="523.0" y2="291.5" stroke="#f3c9ad" stroke-width="0.7"/><line x1="517.8" y1="293.3" x2="521.3" y2="290.0" stroke="#f3c9ad" stroke-width="0.7"/><line x1="515.9" y1="291.1" x2="519.9" y2="288.2" stroke="#f3c9ad" stroke-width="0.7"/><line x1="514.4" y1="288.6" x2="518.7" y2="286.3" stroke="#f3c9ad" stroke-width="0.7"/><line x1="513.1" y1="286.0" x2="517.7" y2="284.2" stroke="#f3c9ad" stroke-width="0.7"/><line x1="512.2" y1="283.2" x2="517.0" y2="282.0" stroke="#f3c9ad" stroke-width="0.7"/><line x1="511.7" y1="280.4" x2="516.5" y2="279.8" stroke="#f3c9ad" stroke-width="0.7"/><line x1="511.5" y1="277.5" x2="516.4" y2="277.5" stroke="#f3c9ad" stroke-width="0.7"/><line x1="511.7" y1="274.6" x2="516.5" y2="275.2" stroke="#f3c9ad" stroke-width="0.7"/><line x1="512.2" y1="271.8" x2="517.0" y2="273.0" stroke="#f3c9ad" stroke-width="0.7"/><line x1="513.1" y1="269.0" x2="517.7" y2="270.8" stroke="#f3c9ad" stroke-width="0.7"/><line x1="514.4" y1="266.4" x2="518.7" y2="268.7" stroke="#f3c9ad" stroke-width="0.7"/><line x1="515.9" y1="263.9" x2="519.9" y2="266.8" stroke="#f3c9ad" stroke-width="0.7"/><line x1="517.8" y1="261.7" x2="521.3" y2="265.0" stroke="#f3c9ad" stroke-width="0.7"/><line x1="519.9" y1="259.7" x2="523.0" y2="263.5" stroke="#f3c9ad" stroke-width="0.7"/><line x1="522.2" y1="258.0" x2="524.8" y2="262.1" stroke="#f3c9ad" stroke-width="0.7"/><line x1="524.8" y1="256.6" x2="526.9" y2="261.0" stroke="#f3c9ad" stroke-width="0.7"/><line x1="527.5" y1="255.5" x2="529.0" y2="260.2" stroke="#f3c9ad" stroke-width="0.7"/><line x1="530.3" y1="254.8" x2="531.2" y2="259.6" stroke="#f3c9ad" stroke-width="0.7"/><line x1="533.1" y1="254.4" x2="533.5" y2="259.3" stroke="#f3c9ad" stroke-width="0.7"/><line x1="536.1" y1="254.4" x2="535.7" y2="259.3" stroke="#f3c9ad" stroke-width="0.7"/><line x1="538.9" y1="254.8" x2="538.0" y2="259.6" stroke="#f3c9ad" stroke-width="0.7"/><line x1="541.7" y1="255.5" x2="540.2" y2="260.2" stroke="#f3c9ad" stroke-width="0.7"/><line x1="544.4" y1="256.6" x2="542.3" y2="261.0" stroke="#f3c9ad" stroke-width="0.7"/><line x1="547.0" y1="258.0" x2="544.4" y2="262.1" stroke="#f3c9ad" stroke-width="0.7"/><line x1="549.3" y1="259.7" x2="546.2" y2="263.5" stroke="#f3c9ad" stroke-width="0.7"/><line x1="551.4" y1="261.7" x2="547.9" y2="265.0" stroke="#f3c9ad" stroke-width="0.7"/><line x1="553.3" y1="263.9" x2="549.3" y2="266.8" stroke="#f3c9ad" stroke-width="0.7"/><line x1="554.8" y1="266.4" x2="550.5" y2="268.7" stroke="#f3c9ad" stroke-width="0.7"/><line x1="556.1" y1="269.0" x2="551.5" y2="270.8" stroke="#f3c9ad" stroke-width="0.7"/><line x1="557.0" y1="271.8" x2="552.2" y2="273.0" stroke="#f3c9ad" stroke-width="0.7"/><line x1="557.5" y1="274.6" x2="552.7" y2="275.2" stroke="#f3c9ad" stroke-width="0.7"/><circle cx="559.1" cy="277.5" r="1.6" fill="#fad9c2" stroke="#efab80" stroke-width="0.65"/><circle cx="558.9" cy="280.6" r="1.6" fill="#fad9c2" stroke="#efab80" stroke-width="0.65"/><circle cx="558.3" cy="283.6" r="1.6" fill="#fad9c2" stroke="#efab80" stroke-width="0.65"/><circle cx="557.4" cy="286.5" r="1.6" fill="#fad9c2" stroke="#efab80" stroke-width="0.65"/><circle cx="556.1" cy="289.3" r="1.6" fill="#fad9c2" stroke="#efab80" stroke-width="0.65"/><circle cx="554.4" cy="291.9" r="1.6" fill="#fad9c2" stroke="#efab80" stroke-width="0.65"/><circle cx="552.5" cy="294.3" r="1.6" fill="#fad9c2" stroke="#efab80" stroke-width="0.65"/><circle cx="550.2" cy="296.4" r="1.6" fill="#fad9c2" stroke="#efab80" stroke-width="0.65"/><circle cx="547.7" cy="298.2" r="1.6" fill="#fad9c2" stroke="#efab80" stroke-width="0.65"/><circle cx="545.0" cy="299.7" r="1.6" fill="#fad9c2" stroke="#efab80" stroke-width="0.65"/><circle cx="542.2" cy="300.8" r="1.6" fill="#fad9c2" stroke="#efab80" stroke-width="0.65"/><circle cx="539.2" cy="301.6" r="1.6" fill="#fad9c2" stroke="#efab80" stroke-width="0.65"/><circle cx="536.1" cy="302.0" r="1.6" fill="#fad9c2" stroke="#efab80" stroke-width="0.65"/><circle cx="533.1" cy="302.0" r="1.6" fill="#fad9c2" stroke="#efab80" stroke-width="0.65"/><circle cx="530.0" cy="301.6" r="1.6" fill="#fad9c2" stroke="#efab80" stroke-width="0.65"/><circle cx="527.0" cy="300.8" r="1.6" fill="#fad9c2" stroke="#efab80" stroke-width="0.65"/><circle cx="524.2" cy="299.7" r="1.6" fill="#fad9c2" stroke="#efab80" stroke-width="0.65"/><circle cx="521.5" cy="298.2" r="1.6" fill="#fad9c2" stroke="#efab80" stroke-width="0.65"/><circle cx="519.0" cy="296.4" r="1.6" fill="#fad9c2" stroke="#efab80" stroke-width="0.65"/><circle cx="516.7" cy="294.3" r="1.6" fill="#fad9c2" stroke="#efab80" stroke-width="0.65"/><circle cx="514.8" cy="291.9" r="1.6" fill="#fad9c2" stroke="#efab80" stroke-width="0.65"/><circle cx="513.1" cy="289.3" r="1.6" fill="#fad9c2" stroke="#efab80" stroke-width="0.65"/><circle cx="511.8" cy="286.5" r="1.6" fill="#fad9c2" stroke="#efab80" stroke-width="0.65"/><circle cx="510.9" cy="283.6" r="1.6" fill="#fad9c2" stroke="#efab80" stroke-width="0.65"/><circle cx="510.3" cy="280.6" r="1.6" fill="#fad9c2" stroke="#efab80" stroke-width="0.65"/><circle cx="510.1" cy="277.5" r="1.6" fill="#fad9c2" stroke="#efab80" stroke-width="0.65"/><circle cx="510.3" cy="274.4" r="1.6" fill="#fad9c2" stroke="#efab80" stroke-width="0.65"/><circle cx="510.9" cy="271.4" r="1.6" fill="#fad9c2" stroke="#efab80" stroke-width="0.65"/><circle cx="511.8" cy="268.5" r="1.6" fill="#fad9c2" stroke="#efab80" stroke-width="0.65"/><circle cx="513.1" cy="265.7" r="1.6" fill="#fad9c2" stroke="#efab80" stroke-width="0.65"/><circle cx="514.8" cy="263.1" r="1.6" fill="#fad9c2" stroke="#efab80" stroke-width="0.65"/><circle cx="516.7" cy="260.7" r="1.6" fill="#fad9c2" stroke="#efab80" stroke-width="0.65"/><circle cx="519.0" cy="258.6" r="1.6" fill="#fad9c2" stroke="#efab80" stroke-width="0.65"/><circle cx="521.5" cy="256.8" r="1.6" fill="#fad9c2" stroke="#efab80" stroke-width="0.65"/><circle cx="524.2" cy="255.3" r="1.6" fill="#fad9c2" stroke="#efab80" stroke-width="0.65"/><circle cx="527.0" cy="254.2" r="1.6" fill="#fad9c2" stroke="#efab80" stroke-width="0.65"/><circle cx="530.0" cy="253.4" r="1.6" fill="#fad9c2" stroke="#efab80" stroke-width="0.65"/><circle cx="533.1" cy="253.0" r="1.6" fill="#fad9c2" stroke="#efab80" stroke-width="0.65"/><circle cx="536.1" cy="253.0" r="1.6" fill="#fad9c2" stroke="#efab80" stroke-width="0.65"/><circle cx="539.2" cy="253.4" r="1.6" fill="#fad9c2" stroke="#efab80" stroke-width="0.65"/><circle cx="542.2" cy="254.2" r="1.6" fill="#fad9c2" stroke="#efab80" stroke-width="0.65"/><circle cx="545.0" cy="255.3" r="1.6" fill="#fad9c2" stroke="#efab80" stroke-width="0.65"/><circle cx="547.7" cy="256.8" r="1.6" fill="#fad9c2" stroke="#efab80" stroke-width="0.65"/><circle cx="550.2" cy="258.6" r="1.6" fill="#fad9c2" stroke="#efab80" stroke-width="0.65"/><circle cx="552.5" cy="260.7" r="1.6" fill="#fad9c2" stroke="#efab80" stroke-width="0.65"/><circle cx="554.4" cy="263.1" r="1.6" fill="#fad9c2" stroke="#efab80" stroke-width="0.65"/><circle cx="556.1" cy="265.7" r="1.6" fill="#fad9c2" stroke="#efab80" stroke-width="0.65"/><circle cx="557.4" cy="268.5" r="1.6" fill="#fad9c2" stroke="#efab80" stroke-width="0.65"/><circle cx="558.3" cy="271.4" r="1.6" fill="#fad9c2" stroke="#efab80" stroke-width="0.65"/><circle cx="558.9" cy="274.4" r="1.6" fill="#fad9c2" stroke="#efab80" stroke-width="0.65"/><circle cx="551.4" cy="277.5" r="1.5" fill="#fad9c2" stroke="#efab80" stroke-width="0.65"/><circle cx="551.1" cy="280.6" r="1.5" fill="#fad9c2" stroke="#efab80" stroke-width="0.65"/><circle cx="550.3" cy="283.6" r="1.5" fill="#fad9c2" stroke="#efab80" stroke-width="0.65"/><circle cx="548.9" cy="286.3" r="1.5" fill="#fad9c2" stroke="#efab80" stroke-width="0.65"/><circle cx="547.0" cy="288.8" r="1.5" fill="#fad9c2" stroke="#efab80" stroke-width="0.65"/><circle cx="544.7" cy="290.9" r="1.5" fill="#fad9c2" stroke="#efab80" stroke-width="0.65"/><circle cx="542.1" cy="292.5" r="1.5" fill="#fad9c2" stroke="#efab80" stroke-width="0.65"/><circle cx="539.2" cy="293.7" r="1.5" fill="#fad9c2" stroke="#efab80" stroke-width="0.65"/><circle cx="536.2" cy="294.2" r="1.5" fill="#fad9c2" stroke="#efab80" stroke-width="0.65"/><circle cx="533.0" cy="294.2" r="1.5" fill="#fad9c2" stroke="#efab80" stroke-width="0.65"/><circle cx="530.0" cy="293.7" r="1.5" fill="#fad9c2" stroke="#efab80" stroke-width="0.65"/><circle cx="527.1" cy="292.5" r="1.5" fill="#fad9c2" stroke="#efab80" stroke-width="0.65"/><circle cx="524.5" cy="290.9" r="1.5" fill="#fad9c2" stroke="#efab80" stroke-width="0.65"/><circle cx="522.2" cy="288.8" r="1.5" fill="#fad9c2" stroke="#efab80" stroke-width="0.65"/><circle cx="520.3" cy="286.3" r="1.5" fill="#fad9c2" stroke="#efab80" stroke-width="0.65"/><circle cx="518.9" cy="283.6" r="1.5" fill="#fad9c2" stroke="#efab80" stroke-width="0.65"/><circle cx="518.1" cy="280.6" r="1.5" fill="#fad9c2" stroke="#efab80" stroke-width="0.65"/><circle cx="517.8" cy="277.5" r="1.5" fill="#fad9c2" stroke="#efab80" stroke-width="0.65"/><circle cx="518.1" cy="274.4" r="1.5" fill="#fad9c2" stroke="#efab80" stroke-width="0.65"/><circle cx="518.9" cy="271.4" r="1.5" fill="#fad9c2" stroke="#efab80" stroke-width="0.65"/><circle cx="520.3" cy="268.7" r="1.5" fill="#fad9c2" stroke="#efab80" stroke-width="0.65"/><circle cx="522.2" cy="266.2" r="1.5" fill="#fad9c2" stroke="#efab80" stroke-width="0.65"/><circle cx="524.5" cy="264.1" r="1.5" fill="#fad9c2" stroke="#efab80" stroke-width="0.65"/><circle cx="527.1" cy="262.5" r="1.5" fill="#fad9c2" stroke="#efab80" stroke-width="0.65"/><circle cx="530.0" cy="261.3" r="1.5" fill="#fad9c2" stroke="#efab80" stroke-width="0.65"/><circle cx="533.0" cy="260.8" r="1.5" fill="#fad9c2" stroke="#efab80" stroke-width="0.65"/><circle cx="536.2" cy="260.8" r="1.5" fill="#fad9c2" stroke="#efab80" stroke-width="0.65"/><circle cx="539.2" cy="261.3" r="1.5" fill="#fad9c2" stroke="#efab80" stroke-width="0.65"/><circle cx="542.1" cy="262.5" r="1.5" fill="#fad9c2" stroke="#efab80" stroke-width="0.65"/><circle cx="544.7" cy="264.1" r="1.5" fill="#fad9c2" stroke="#efab80" stroke-width="0.65"/><circle cx="547.0" cy="266.2" r="1.5" fill="#fad9c2" stroke="#efab80" stroke-width="0.65"/><circle cx="548.9" cy="268.7" r="1.5" fill="#fad9c2" stroke="#efab80" stroke-width="0.65"/><circle cx="550.3" cy="271.4" r="1.5" fill="#fad9c2" stroke="#efab80" stroke-width="0.65"/><circle cx="551.1" cy="274.4" r="1.5" fill="#fad9c2" stroke="#efab80" stroke-width="0.65"/>
<path d="M547.5,272 L552,263 M550,273.5 L554.5,264.5 M545.5,270.5 L550,262" stroke="#efe3ea" stroke-width="1.2"/>
<path d="M552.35,263.99 L553.54,262.57 L554.72,261.15 L555.89,259.71 L557.03,258.26 L558.15,256.80 L559.23,255.31 L560.27,253.80 L561.26,252.27 L562.21,250.70 L563.09,249.10 L563.86,247.44 L564.51,245.69 L564.94,243.83 L564.40,241.40 L564.40,241.40 L562.01,242.12 L560.61,243.42 L559.41,244.83 L558.34,246.33 L557.37,247.88 L556.48,249.48 L555.63,251.10 L554.83,252.75 L554.07,254.42 L553.34,256.11 L552.64,257.82 L551.96,259.54 L551.31,261.27 L550.65,263.01Z" fill="#a98bc9" stroke="#9b7fbd" stroke-width="0.4"/>
<path d="M554.11,265.27 L555.68,264.43 L557.24,263.58 L558.80,262.72 L560.34,261.84 L561.85,260.93 L563.35,259.99 L564.81,259.01 L566.24,257.99 L567.64,256.93 L568.99,255.81 L570.26,254.58 L571.44,253.24 L572.47,251.72 L572.80,249.30 L572.80,249.30 L570.37,249.05 L568.65,249.70 L567.07,250.53 L565.58,251.48 L564.17,252.53 L562.82,253.64 L561.49,254.79 L560.20,255.99 L558.93,257.22 L557.69,258.48 L556.47,259.77 L555.27,261.07 L554.08,262.40 L552.89,263.73Z" fill="#a98bc9" stroke="#9b7fbd" stroke-width="0.4"/>
<path d="M553.22,264.61 L554.56,263.51 L555.89,262.40 L557.20,261.28 L558.50,260.14 L559.77,258.98 L561.01,257.79 L562.22,256.58 L563.39,255.33 L564.52,254.05 L565.59,252.72 L566.57,251.31 L567.44,249.81 L568.14,248.16 L568.00,245.80 L568.00,245.80 L565.65,246.04 L564.13,246.99 L562.78,248.09 L561.55,249.28 L560.41,250.55 L559.33,251.87 L558.28,253.22 L557.27,254.61 L556.30,256.02 L555.36,257.46 L554.44,258.92 L553.54,260.40 L552.66,261.89 L551.78,263.39Z" fill="#ad90cb" stroke="#9b7fbd" stroke-width="0.4"/>
<circle cx="532.0" cy="273.9" r="2.5" fill="#d5d2e6" stroke="#7b7799" stroke-width="1.2"/>
<circle cx="541.1" cy="274.6" r="2.5" fill="#d5d2e6" stroke="#7b7799" stroke-width="1.2"/>
<circle cx="534.6" cy="284.3" r="2.5" fill="#d5d2e6" stroke="#7b7799" stroke-width="1.2"/>
<rect x="533.6" y="366" width="3.8" height="1" fill="#f3e2b6"/>
<rect x="533.6" y="322" width="3.8" height="44" fill="#f5e4ba" stroke="#e3d0a0" stroke-width="0.5"/>
<rect x="533.7" y="300" width="3.4" height="13.5" fill="#5bb5c1"/>
<path d="M527.2,323 C527,317 531,314.2 535.6,314.2 C540,314.2 544.5,317 544.5,323" fill="none" stroke="#5bb5c1" stroke-width="3.6" stroke-linecap="round"/>
<circle cx="535.5" cy="322.2" r="5.4" fill="#f6e5bb"/>
<line x1="531.5" y1="289.5" x2="514.8" y2="310.7" stroke="#222" stroke-width="1.1"/>
<line x1="542" y1="308" x2="566.8" y2="308" stroke="#3a3a3a" stroke-width="1.3"/>
<line x1="542" y1="326.5" x2="566.8" y2="326.5" stroke="#3a3a3a" stroke-width="1.3"/>
<text x="457.6" y="320.3" font-size="10.7">Granzyme B</text>
<text x="569.4" y="312" font-size="10.7">GFP-PD-1</text>
<text x="569.4" y="330.4" font-size="10.7">PD-L1</text>
<circle cx="697.4" cy="278" r="16" fill="#fff"/>
<circle cx="697.4" cy="278.0" r="20.7" fill="none" stroke="#fbe6d8" stroke-width="7.8"/><line x1="720.6" y1="278.0" x2="715.6" y2="278.0" stroke="#f3c9ad" stroke-width="0.7"/><line x1="720.4" y1="280.9" x2="715.5" y2="280.3" stroke="#f3c9ad" stroke-width="0.7"/><line x1="719.9" y1="283.8" x2="715.0" y2="282.5" stroke="#f3c9ad" stroke-width="0.7"/><line x1="719.0" y1="286.5" x2="714.3" y2="284.7" stroke="#f3c9ad" stroke-width="0.7"/><line x1="717.7" y1="289.2" x2="713.3" y2="286.8" stroke="#f3c9ad" stroke-width="0.7"/><line x1="716.2" y1="291.6" x2="712.1" y2="288.7" stroke="#f3c9ad" stroke-width="0.7"/><line x1="714.3" y1="293.9" x2="710.7" y2="290.5" stroke="#f3c9ad" stroke-width="0.7"/><line x1="712.2" y1="295.9" x2="709.0" y2="292.0" stroke="#f3c9ad" stroke-width="0.7"/><line x1="709.8" y1="297.6" x2="707.2" y2="293.4" stroke="#f3c9ad" stroke-width="0.7"/><line x1="707.3" y1="299.0" x2="705.1" y2="294.5" stroke="#f3c9ad" stroke-width="0.7"/><line x1="704.6" y1="300.1" x2="703.0" y2="295.3" stroke="#f3c9ad" stroke-width="0.7"/><line x1="701.7" y1="300.8" x2="700.8" y2="295.9" stroke="#f3c9ad" stroke-width="0.7"/><line x1="698.9" y1="301.2" x2="698.5" y2="296.2" stroke="#f3c9ad" stroke-width="0.7"/><line x1="695.9" y1="301.2" x2="696.3" y2="296.2" stroke="#f3c9ad" stroke-width="0.7"/><line x1="693.1" y1="300.8" x2="694.0" y2="295.9" stroke="#f3c9ad" stroke-width="0.7"/><line x1="690.2" y1="300.1" x2="691.8" y2="295.3" stroke="#f3c9ad" stroke-width="0.7"/><line x1="687.5" y1="299.0" x2="689.7" y2="294.5" stroke="#f3c9ad" stroke-width="0.7"/><line x1="685.0" y1="297.6" x2="687.6" y2="293.4" stroke="#f3c9ad" stroke-width="0.7"/><line x1="682.6" y1="295.9" x2="685.8" y2="292.0" stroke="#f3c9ad" stroke-width="0.7"/><line x1="680.5" y1="293.9" x2="684.1" y2="290.5" stroke="#f3c9ad" stroke-width="0.7"/><line x1="678.6" y1="291.6" x2="682.7" y2="288.7" stroke="#f3c9ad" stroke-width="0.7"/><line x1="677.1" y1="289.2" x2="681.5" y2="286.8" stroke="#f3c9ad" stroke-width="0.7"/><line x1="675.8" y1="286.5" x2="680.5" y2="284.7" stroke="#f3c9ad" stroke-width="0.7"/><line x1="674.9" y1="283.8" x2="679.8" y2="282.5" stroke="#f3c9ad" stroke-width="0.7"/><line x1="674.4" y1="280.9" x2="679.3" y2="280.3" stroke="#f3c9ad" stroke-width="0.7"/><line x1="674.2" y1="278.0" x2="679.2" y2="278.0" stroke="#f3c9ad" stroke-width="0.7"/><line x1="674.4" y1="275.1" x2="679.3" y2="275.7" stroke="#f3c9ad" stroke-width="0.7"/><line x1="674.9" y1="272.2" x2="679.8" y2="273.5" stroke="#f3c9ad" stroke-width="0.7"/><line x1="675.8" y1="269.5" x2="680.5" y2="271.3" stroke="#f3c9ad" stroke-width="0.7"/><line x1="677.1" y1="266.8" x2="681.5" y2="269.2" stroke="#f3c9ad" stroke-width="0.7"/><line x1="678.6" y1="264.4" x2="682.7" y2="267.3" stroke="#f3c9ad" stroke-width="0.7"/><line x1="680.5" y1="262.1" x2="684.1" y2="265.5" stroke="#f3c9ad" stroke-width="0.7"/><line x1="682.6" y1="260.1" x2="685.8" y2="264.0" stroke="#f3c9ad" stroke-width="0.7"/><line x1="685.0" y1="258.4" x2="687.6" y2="262.6" stroke="#f3c9ad" stroke-width="0.7"/><line x1="687.5" y1="257.0" x2="689.7" y2="261.5" stroke="#f3c9ad" stroke-width="0.7"/><line x1="690.2" y1="255.9" x2="691.8" y2="260.7" stroke="#f3c9ad" stroke-width="0.7"/><line x1="693.1" y1="255.2" x2="694.0" y2="260.1" stroke="#f3c9ad" stroke-width="0.7"/><line x1="695.9" y1="254.8" x2="696.3" y2="259.8" stroke="#f3c9ad" stroke-width="0.7"/><line x1="698.9" y1="254.8" x2="698.5" y2="259.8" stroke="#f3c9ad" stroke-width="0.7"/><line x1="701.7" y1="255.2" x2="700.8" y2="260.1" stroke="#f3c9ad" stroke-width="0.7"/><line x1="704.6" y1="255.9" x2="703.0" y2="260.7" stroke="#f3c9ad" stroke-width="0.7"/><line x1="707.3" y1="257.0" x2="705.1" y2="261.5" stroke="#f3c9ad" stroke-width="0.7"/><line x1="709.8" y1="258.4" x2="707.2" y2="262.6" stroke="#f3c9ad" stroke-width="0.7"/><line x1="712.2" y1="260.1" x2="709.0" y2="264.0" stroke="#f3c9ad" stroke-width="0.7"/><line x1="714.3" y1="262.1" x2="710.7" y2="265.5" stroke="#f3c9ad" stroke-width="0.7"/><line x1="716.2" y1="264.4" x2="712.1" y2="267.3" stroke="#f3c9ad" stroke-width="0.7"/><line x1="717.7" y1="266.8" x2="713.3" y2="269.2" stroke="#f3c9ad" stroke-width="0.7"/><line x1="719.0" y1="269.5" x2="714.3" y2="271.3" stroke="#f3c9ad" stroke-width="0.7"/><line x1="719.9" y1="272.2" x2="715.0" y2="273.5" stroke="#f3c9ad" stroke-width="0.7"/><line x1="720.4" y1="275.1" x2="715.5" y2="275.7" stroke="#f3c9ad" stroke-width="0.7"/><circle cx="722.0" cy="278.0" r="1.6" fill="#fad9c2" stroke="#efab80" stroke-width="0.65"/><circle cx="721.8" cy="281.1" r="1.6" fill="#fad9c2" stroke="#efab80" stroke-width="0.65"/><circle cx="721.2" cy="284.1" r="1.6" fill="#fad9c2" stroke="#efab80" stroke-width="0.65"/><circle cx="720.3" cy="287.1" r="1.6" fill="#fad9c2" stroke="#efab80" stroke-width="0.65"/><circle cx="719.0" cy="289.9" r="1.6" fill="#fad9c2" stroke="#efab80" stroke-width="0.65"/><circle cx="717.3" cy="292.5" r="1.6" fill="#fad9c2" stroke="#efab80" stroke-width="0.65"/><circle cx="715.3" cy="294.8" r="1.6" fill="#fad9c2" stroke="#efab80" stroke-width="0.65"/><circle cx="713.1" cy="297.0" r="1.6" fill="#fad9c2" stroke="#efab80" stroke-width="0.65"/><circle cx="710.6" cy="298.8" r="1.6" fill="#fad9c2" stroke="#efab80" stroke-width="0.65"/><circle cx="707.9" cy="300.3" r="1.6" fill="#fad9c2" stroke="#efab80" stroke-width="0.65"/><circle cx="705.0" cy="301.4" r="1.6" fill="#fad9c2" stroke="#efab80" stroke-width="0.65"/><circle cx="702.0" cy="302.2" r="1.6" fill="#fad9c2" stroke="#efab80" stroke-width="0.65"/><circle cx="698.9" cy="302.6" r="1.6" fill="#fad9c2" stroke="#efab80" stroke-width="0.65"/><circle cx="695.9" cy="302.6" r="1.6" fill="#fad9c2" stroke="#efab80" stroke-width="0.65"/><circle cx="692.8" cy="302.2" r="1.6" fill="#fad9c2" stroke="#efab80" stroke-width="0.65"/><circle cx="689.8" cy="301.4" r="1.6" fill="#fad9c2" stroke="#efab80" stroke-width="0.65"/><circle cx="686.9" cy="300.3" r="1.6" fill="#fad9c2" stroke="#efab80" stroke-width="0.65"/><circle cx="684.2" cy="298.8" r="1.6" fill="#fad9c2" stroke="#efab80" stroke-width="0.65"/><circle cx="681.7" cy="297.0" r="1.6" fill="#fad9c2" stroke="#efab80" stroke-width="0.65"/><circle cx="679.5" cy="294.8" r="1.6" fill="#fad9c2" stroke="#efab80" stroke-width="0.65"/><circle cx="677.5" cy="292.5" r="1.6" fill="#fad9c2" stroke="#efab80" stroke-width="0.65"/><circle cx="675.8" cy="289.9" r="1.6" fill="#fad9c2" stroke="#efab80" stroke-width="0.65"/><circle cx="674.5" cy="287.1" r="1.6" fill="#fad9c2" stroke="#efab80" stroke-width="0.65"/><circle cx="673.6" cy="284.1" r="1.6" fill="#fad9c2" stroke="#efab80" stroke-width="0.65"/><circle cx="673.0" cy="281.1" r="1.6" fill="#fad9c2" stroke="#efab80" stroke-width="0.65"/><circle cx="672.8" cy="278.0" r="1.6" fill="#fad9c2" stroke="#efab80" stroke-width="0.65"/><circle cx="673.0" cy="274.9" r="1.6" fill="#fad9c2" stroke="#efab80" stroke-width="0.65"/><circle cx="673.6" cy="271.9" r="1.6" fill="#fad9c2" stroke="#efab80" stroke-width="0.65"/><circle cx="674.5" cy="268.9" r="1.6" fill="#fad9c2" stroke="#efab80" stroke-width="0.65"/><circle cx="675.8" cy="266.1" r="1.6" fill="#fad9c2" stroke="#efab80" stroke-width="0.65"/><circle cx="677.5" cy="263.5" r="1.6" fill="#fad9c2" stroke="#efab80" stroke-width="0.65"/><circle cx="679.5" cy="261.2" r="1.6" fill="#fad9c2" stroke="#efab80" stroke-width="0.65"/><circle cx="681.7" cy="259.0" r="1.6" fill="#fad9c2" stroke="#efab80" stroke-width="0.65"/><circle cx="684.2" cy="257.2" r="1.6" fill="#fad9c2" stroke="#efab80" stroke-width="0.65"/><circle cx="686.9" cy="255.7" r="1.6" fill="#fad9c2" stroke="#efab80" stroke-width="0.65"/><circle cx="689.8" cy="254.6" r="1.6" fill="#fad9c2" stroke="#efab80" stroke-width="0.65"/><circle cx="692.8" cy="253.8" r="1.6" fill="#fad9c2" stroke="#efab80" stroke-width="0.65"/><circle cx="695.9" cy="253.4" r="1.6" fill="#fad9c2" stroke="#efab80" stroke-width="0.65"/><circle cx="698.9" cy="253.4" r="1.6" fill="#fad9c2" stroke="#efab80" stroke-width="0.65"/><circle cx="702.0" cy="253.8" r="1.6" fill="#fad9c2" stroke="#efab80" stroke-width="0.65"/><circle cx="705.0" cy="254.6" r="1.6" fill="#fad9c2" stroke="#efab80" stroke-width="0.65"/><circle cx="707.9" cy="255.7" r="1.6" fill="#fad9c2" stroke="#efab80" stroke-width="0.65"/><circle cx="710.6" cy="257.2" r="1.6" fill="#fad9c2" stroke="#efab80" stroke-width="0.65"/><circle cx="713.1" cy="259.0" r="1.6" fill="#fad9c2" stroke="#efab80" stroke-width="0.65"/><circle cx="715.3" cy="261.2" r="1.6" fill="#fad9c2" stroke="#efab80" stroke-width="0.65"/><circle cx="717.3" cy="263.5" r="1.6" fill="#fad9c2" stroke="#efab80" stroke-width="0.65"/><circle cx="719.0" cy="266.1" r="1.6" fill="#fad9c2" stroke="#efab80" stroke-width="0.65"/><circle cx="720.3" cy="268.9" r="1.6" fill="#fad9c2" stroke="#efab80" stroke-width="0.65"/><circle cx="721.2" cy="271.9" r="1.6" fill="#fad9c2" stroke="#efab80" stroke-width="0.65"/><circle cx="721.8" cy="274.9" r="1.6" fill="#fad9c2" stroke="#efab80" stroke-width="0.65"/><circle cx="714.2" cy="278.0" r="1.5" fill="#fad9c2" stroke="#efab80" stroke-width="0.65"/><circle cx="713.9" cy="281.1" r="1.5" fill="#fad9c2" stroke="#efab80" stroke-width="0.65"/><circle cx="713.1" cy="284.1" r="1.5" fill="#fad9c2" stroke="#efab80" stroke-width="0.65"/><circle cx="711.7" cy="286.8" r="1.5" fill="#fad9c2" stroke="#efab80" stroke-width="0.65"/><circle cx="709.8" cy="289.3" r="1.5" fill="#fad9c2" stroke="#efab80" stroke-width="0.65"/><circle cx="707.5" cy="291.4" r="1.5" fill="#fad9c2" stroke="#efab80" stroke-width="0.65"/><circle cx="704.9" cy="293.0" r="1.5" fill="#fad9c2" stroke="#efab80" stroke-width="0.65"/><circle cx="702.0" cy="294.2" r="1.5" fill="#fad9c2" stroke="#efab80" stroke-width="0.65"/><circle cx="699.0" cy="294.7" r="1.5" fill="#fad9c2" stroke="#efab80" stroke-width="0.65"/><circle cx="695.8" cy="294.7" r="1.5" fill="#fad9c2" stroke="#efab80" stroke-width="0.65"/><circle cx="692.8" cy="294.2" r="1.5" fill="#fad9c2" stroke="#efab80" stroke-width="0.65"/><circle cx="689.9" cy="293.0" r="1.5" fill="#fad9c2" stroke="#efab80" stroke-width="0.65"/><circle cx="687.3" cy="291.4" r="1.5" fill="#fad9c2" stroke="#efab80" stroke-width="0.65"/><circle cx="685.0" cy="289.3" r="1.5" fill="#fad9c2" stroke="#efab80" stroke-width="0.65"/><circle cx="683.1" cy="286.8" r="1.5" fill="#fad9c2" stroke="#efab80" stroke-width="0.65"/><circle cx="681.7" cy="284.1" r="1.5" fill="#fad9c2" stroke="#efab80" stroke-width="0.65"/><circle cx="680.9" cy="281.1" r="1.5" fill="#fad9c2" stroke="#efab80" stroke-width="0.65"/><circle cx="680.6" cy="278.0" r="1.5" fill="#fad9c2" stroke="#efab80" stroke-width="0.65"/><circle cx="680.9" cy="274.9" r="1.5" fill="#fad9c2" stroke="#efab80" stroke-width="0.65"/><circle cx="681.7" cy="271.9" r="1.5" fill="#fad9c2" stroke="#efab80" stroke-width="0.65"/><circle cx="683.1" cy="269.2" r="1.5" fill="#fad9c2" stroke="#efab80" stroke-width="0.65"/><circle cx="685.0" cy="266.7" r="1.5" fill="#fad9c2" stroke="#efab80" stroke-width="0.65"/><circle cx="687.3" cy="264.6" r="1.5" fill="#fad9c2" stroke="#efab80" stroke-width="0.65"/><circle cx="689.9" cy="263.0" r="1.5" fill="#fad9c2" stroke="#efab80" stroke-width="0.65"/><circle cx="692.8" cy="261.8" r="1.5" fill="#fad9c2" stroke="#efab80" stroke-width="0.65"/><circle cx="695.8" cy="261.3" r="1.5" fill="#fad9c2" stroke="#efab80" stroke-width="0.65"/><circle cx="699.0" cy="261.3" r="1.5" fill="#fad9c2" stroke="#efab80" stroke-width="0.65"/><circle cx="702.0" cy="261.8" r="1.5" fill="#fad9c2" stroke="#efab80" stroke-width="0.65"/><circle cx="704.9" cy="263.0" r="1.5" fill="#fad9c2" stroke="#efab80" stroke-width="0.65"/><circle cx="707.5" cy="264.6" r="1.5" fill="#fad9c2" stroke="#efab80" stroke-width="0.65"/><circle cx="709.8" cy="266.7" r="1.5" fill="#fad9c2" stroke="#efab80" stroke-width="0.65"/><circle cx="711.7" cy="269.2" r="1.5" fill="#fad9c2" stroke="#efab80" stroke-width="0.65"/><circle cx="713.1" cy="271.9" r="1.5" fill="#fad9c2" stroke="#efab80" stroke-width="0.65"/><circle cx="713.9" cy="274.9" r="1.5" fill="#fad9c2" stroke="#efab80" stroke-width="0.65"/>
<circle cx="692.6" cy="272.6" r="2.7" fill="#d5d2e6" stroke="#7b7799" stroke-width="1.2"/>
<circle cx="701.5" cy="278.9" r="2.7" fill="#d5d2e6" stroke="#7b7799" stroke-width="1.2"/>
<circle cx="694.5" cy="284.6" r="2.7" fill="#d5d2e6" stroke="#7b7799" stroke-width="1.2"/>
<path d="M711.8,270.3 L722.7,265.6 C725,262.5 725.3,258 727.3,255.6 C728.6,254.2 730.5,253.7 732.4,253.8 M722.7,265.6 C726,268.3 730,269.8 739,269.8" fill="none" stroke="#5fb2bd" stroke-width="3.3" stroke-linecap="round" stroke-linejoin="round"/>
<rect x="690.8" y="330" width="3.2" height="38.5" fill="#d5e7d2" stroke="#9fb39c" stroke-width="0.5"/>
<rect x="695.8" y="330" width="3.2" height="38.5" fill="#d5e7d2" stroke="#9fb39c" stroke-width="0.5"/>
<rect x="700.8" y="330" width="3.2" height="38.5" fill="#d5e7d2" stroke="#9fb39c" stroke-width="0.5"/>
<line x1="692.6" y1="298" x2="692.6" y2="310" stroke="#8e8499" stroke-width="0.9"/>
<line x1="697.4" y1="298" x2="697.4" y2="310" stroke="#8e8499" stroke-width="0.9"/>
<line x1="702.2" y1="298" x2="702.2" y2="310" stroke="#8e8499" stroke-width="0.9"/>
<path d="M692.4,306.5 C690.8,311 689.4,315 689.4,320 C689.4,324.5 691.0,327 692.4,327 C693.8,327 695.4,324.5 695.4,320 C695.4,315 694.0,311 692.4,306.5 Z" fill="#ab8cca" stroke="#9d80bf" stroke-width="0.4"/>
<path d="M697.4,306.5 C695.8,311 694.4,315 694.4,320 C694.4,324.5 696.0,327 697.4,327 C698.8,327 700.4,324.5 700.4,320 C700.4,315 699.0,311 697.4,306.5 Z" fill="#ab8cca" stroke="#9d80bf" stroke-width="0.4"/>
<path d="M702.4,306.5 C700.8,311 699.4,315 699.4,320 C699.4,324.5 701.0,327 702.4,327 C703.8,327 705.4,324.5 705.4,320 C705.4,315 704.0,311 702.4,306.5 Z" fill="#ab8cca" stroke="#9d80bf" stroke-width="0.4"/>
<path d="M689.6,322 C689.6,327 691.2,332 692.4,336 C693.6,332 695.2,327 695.2,322 C693.6,325.5 691.2,325.5 689.6,322 Z" fill="#cde2c9" stroke="#a9c1a5" stroke-width="0.4"/>
<path d="M694.6,322 C694.6,327 696.2,332 697.4,336 C698.6,332 700.2,327 700.2,322 C698.6,325.5 696.2,325.5 694.6,322 Z" fill="#cde2c9" stroke="#a9c1a5" stroke-width="0.4"/>
<path d="M699.6,322 C699.6,327 701.2,332 702.4,336 C703.6,332 705.2,327 705.2,322 C703.6,325.5 701.2,325.5 699.6,322 Z" fill="#cde2c9" stroke="#a9c1a5" stroke-width="0.4"/>
<rect x="690.3" y="368.2" width="4.6" height="4.4" rx="0.8" fill="#f3dc9e" stroke="#c2a766" stroke-width="0.6"/>
<rect x="695.1" y="368.2" width="4.6" height="4.4" rx="0.8" fill="#f3dc9e" stroke="#c2a766" stroke-width="0.6"/>
<rect x="699.9" y="368.2" width="4.6" height="4.4" rx="0.8" fill="#f3dc9e" stroke="#c2a766" stroke-width="0.6"/>
<line x1="706.8" y1="310.4" x2="732.3" y2="310.4" stroke="#3a3a3a" stroke-width="1.3"/>
<line x1="706.8" y1="326.8" x2="738.6" y2="326.8" stroke="#3a3a3a" stroke-width="1.3"/>
<path d="M705.2,371.5 L711,371.5 L719.2,377" fill="none" stroke="#333" stroke-width="1.2"/>
<text x="735.8" y="312" font-size="10.7">FasL</text>
<text x="741.7" y="330.2" font-size="10.7">Fas</text>
<text x="721.2" y="381.5" font-size="10.7">FADD</text>
<circle cx="516.3" cy="377" r="5.8" fill="url(#gGz)" stroke="#9c96c2" stroke-width="0.6"/>
<circle cx="505.4" cy="395.1" r="2.5" fill="#d5d2e6" stroke="#7b7799" stroke-width="1.2"/>
<circle cx="520.7" cy="402.4" r="2.5" fill="#d5d2e6" stroke="#7b7799" stroke-width="1.2"/>
<line x1="505.9" y1="415.7" x2="502.5" y2="415.7" stroke="#f3c9ad" stroke-width="0.7"/><line x1="505.7" y1="418.3" x2="502.4" y2="417.9" stroke="#f3c9ad" stroke-width="0.7"/><line x1="505.3" y1="420.8" x2="502.0" y2="420.1" stroke="#f3c9ad" stroke-width="0.7"/><line x1="504.6" y1="423.3" x2="501.4" y2="422.2" stroke="#f3c9ad" stroke-width="0.7"/><line x1="503.5" y1="425.7" x2="500.5" y2="424.2" stroke="#f3c9ad" stroke-width="0.7"/><line x1="502.2" y1="428.0" x2="499.4" y2="426.1" stroke="#f3c9ad" stroke-width="0.7"/><line x1="500.7" y1="430.0" x2="498.1" y2="427.8" stroke="#f3c9ad" stroke-width="0.7"/><line x1="498.9" y1="431.9" x2="496.6" y2="429.4" stroke="#f3c9ad" stroke-width="0.7"/><line x1="496.9" y1="433.6" x2="494.9" y2="430.9" stroke="#f3c9ad" stroke-width="0.7"/><line x1="494.8" y1="435.0" x2="493.1" y2="432.1" stroke="#f3c9ad" stroke-width="0.7"/><line x1="492.4" y1="436.2" x2="491.1" y2="433.1" stroke="#f3c9ad" stroke-width="0.7"/><line x1="490.0" y1="437.1" x2="489.0" y2="433.8" stroke="#f3c9ad" stroke-width="0.7"/><line x1="487.5" y1="437.7" x2="486.9" y2="434.3" stroke="#f3c9ad" stroke-width="0.7"/><line x1="484.9" y1="438.0" x2="484.7" y2="434.6" stroke="#f3c9ad" stroke-width="0.7"/><line x1="482.3" y1="438.0" x2="482.5" y2="434.6" stroke="#f3c9ad" stroke-width="0.7"/><line x1="479.7" y1="437.7" x2="480.3" y2="434.3" stroke="#f3c9ad" stroke-width="0.7"/><line x1="477.2" y1="437.1" x2="478.2" y2="433.8" stroke="#f3c9ad" stroke-width="0.7"/><line x1="474.8" y1="436.2" x2="476.1" y2="433.1" stroke="#f3c9ad" stroke-width="0.7"/><line x1="472.5" y1="435.0" x2="474.2" y2="432.1" stroke="#f3c9ad" stroke-width="0.7"/><line x1="470.3" y1="433.6" x2="472.3" y2="430.9" stroke="#f3c9ad" stroke-width="0.7"/><line x1="468.3" y1="431.9" x2="470.6" y2="429.4" stroke="#f3c9ad" stroke-width="0.7"/><line x1="466.5" y1="430.0" x2="469.1" y2="427.8" stroke="#f3c9ad" stroke-width="0.7"/><line x1="465.0" y1="428.0" x2="467.8" y2="426.1" stroke="#f3c9ad" stroke-width="0.7"/><line x1="463.7" y1="425.7" x2="466.7" y2="424.2" stroke="#f3c9ad" stroke-width="0.7"/><line x1="462.6" y1="423.3" x2="465.8" y2="422.2" stroke="#f3c9ad" stroke-width="0.7"/><line x1="461.9" y1="420.8" x2="465.2" y2="420.1" stroke="#f3c9ad" stroke-width="0.7"/><line x1="461.5" y1="418.3" x2="464.8" y2="417.9" stroke="#f3c9ad" stroke-width="0.7"/><line x1="461.3" y1="415.7" x2="464.7" y2="415.7" stroke="#f3c9ad" stroke-width="0.7"/><line x1="461.5" y1="413.1" x2="464.8" y2="413.5" stroke="#f3c9ad" stroke-width="0.7"/><line x1="461.9" y1="410.6" x2="465.2" y2="411.3" stroke="#f3c9ad" stroke-width="0.7"/><line x1="462.6" y1="408.1" x2="465.8" y2="409.2" stroke="#f3c9ad" stroke-width="0.7"/><line x1="463.7" y1="405.7" x2="466.7" y2="407.2" stroke="#f3c9ad" stroke-width="0.7"/><line x1="465.0" y1="403.4" x2="467.8" y2="405.3" stroke="#f3c9ad" stroke-width="0.7"/><line x1="466.5" y1="401.4" x2="469.1" y2="403.6" stroke="#f3c9ad" stroke-width="0.7"/><line x1="468.3" y1="399.5" x2="470.6" y2="402.0" stroke="#f3c9ad" stroke-width="0.7"/><line x1="470.3" y1="397.8" x2="472.3" y2="400.5" stroke="#f3c9ad" stroke-width="0.7"/><line x1="472.4" y1="396.4" x2="474.2" y2="399.3" stroke="#f3c9ad" stroke-width="0.7"/><line x1="474.8" y1="395.2" x2="476.1" y2="398.3" stroke="#f3c9ad" stroke-width="0.7"/><line x1="477.2" y1="394.3" x2="478.2" y2="397.6" stroke="#f3c9ad" stroke-width="0.7"/><line x1="479.7" y1="393.7" x2="480.3" y2="397.1" stroke="#f3c9ad" stroke-width="0.7"/><line x1="482.3" y1="393.4" x2="482.5" y2="396.8" stroke="#f3c9ad" stroke-width="0.7"/><line x1="484.9" y1="393.4" x2="484.7" y2="396.8" stroke="#f3c9ad" stroke-width="0.7"/><line x1="487.5" y1="393.7" x2="486.9" y2="397.1" stroke="#f3c9ad" stroke-width="0.7"/><line x1="490.0" y1="394.3" x2="489.0" y2="397.6" stroke="#f3c9ad" stroke-width="0.7"/><line x1="492.4" y1="395.2" x2="491.1" y2="398.3" stroke="#f3c9ad" stroke-width="0.7"/><line x1="494.8" y1="396.4" x2="493.1" y2="399.3" stroke="#f3c9ad" stroke-width="0.7"/><line x1="496.9" y1="397.8" x2="494.9" y2="400.5" stroke="#f3c9ad" stroke-width="0.7"/><line x1="505.7" y1="413.1" x2="502.4" y2="413.5" stroke="#f3c9ad" stroke-width="0.7"/><circle cx="507.3" cy="415.7" r="1.6" fill="#fad9c2" stroke="#efab80" stroke-width="0.65"/><circle cx="507.1" cy="418.5" r="1.6" fill="#fad9c2" stroke="#efab80" stroke-width="0.65"/><circle cx="506.7" cy="421.2" r="1.6" fill="#fad9c2" stroke="#efab80" stroke-width="0.65"/><circle cx="505.9" cy="423.8" r="1.6" fill="#fad9c2" stroke="#efab80" stroke-width="0.65"/><circle cx="504.8" cy="426.3" r="1.6" fill="#fad9c2" stroke="#efab80" stroke-width="0.65"/><circle cx="503.4" cy="428.7" r="1.6" fill="#fad9c2" stroke="#efab80" stroke-width="0.65"/><circle cx="501.8" cy="430.9" r="1.6" fill="#fad9c2" stroke="#efab80" stroke-width="0.65"/><circle cx="499.9" cy="432.9" r="1.6" fill="#fad9c2" stroke="#efab80" stroke-width="0.65"/><circle cx="497.8" cy="434.7" r="1.6" fill="#fad9c2" stroke="#efab80" stroke-width="0.65"/><circle cx="495.5" cy="436.2" r="1.6" fill="#fad9c2" stroke="#efab80" stroke-width="0.65"/><circle cx="493.0" cy="437.5" r="1.6" fill="#fad9c2" stroke="#efab80" stroke-width="0.65"/><circle cx="490.4" cy="438.4" r="1.6" fill="#fad9c2" stroke="#efab80" stroke-width="0.65"/><circle cx="487.7" cy="439.0" r="1.6" fill="#fad9c2" stroke="#efab80" stroke-width="0.65"/><circle cx="485.0" cy="439.4" r="1.6" fill="#fad9c2" stroke="#efab80" stroke-width="0.65"/><circle cx="482.2" cy="439.4" r="1.6" fill="#fad9c2" stroke="#efab80" stroke-width="0.65"/><circle cx="479.5" cy="439.0" r="1.6" fill="#fad9c2" stroke="#efab80" stroke-width="0.65"/><circle cx="476.8" cy="438.4" r="1.6" fill="#fad9c2" stroke="#efab80" stroke-width="0.65"/><circle cx="474.2" cy="437.5" r="1.6" fill="#fad9c2" stroke="#efab80" stroke-width="0.65"/><circle cx="471.8" cy="436.2" r="1.6" fill="#fad9c2" stroke="#efab80" stroke-width="0.65"/><circle cx="469.4" cy="434.7" r="1.6" fill="#fad9c2" stroke="#efab80" stroke-width="0.65"/><circle cx="467.3" cy="432.9" r="1.6" fill="#fad9c2" stroke="#efab80" stroke-width="0.65"/><circle cx="465.4" cy="430.9" r="1.6" fill="#fad9c2" stroke="#efab80" stroke-width="0.65"/><circle cx="463.8" cy="428.7" r="1.6" fill="#fad9c2" stroke="#efab80" stroke-width="0.65"/><circle cx="462.4" cy="426.3" r="1.6" fill="#fad9c2" stroke="#efab80" stroke-width="0.65"/><circle cx="461.3" cy="423.8" r="1.6" fill="#fad9c2" stroke="#efab80" stroke-width="0.65"/><circle cx="460.5" cy="421.2" r="1.6" fill="#fad9c2" stroke="#efab80" stroke-width="0.65"/><circle cx="460.1" cy="418.5" r="1.6" fill="#fad9c2" stroke="#efab80" stroke-width="0.65"/><circle cx="459.9" cy="415.7" r="1.6" fill="#fad9c2" stroke="#efab80" stroke-width="0.65"/><circle cx="460.1" cy="412.9" r="1.6" fill="#fad9c2" stroke="#efab80" stroke-width="0.65"/><circle cx="460.5" cy="410.2" r="1.6" fill="#fad9c2" stroke="#efab80" stroke-width="0.65"/><circle cx="461.3" cy="407.6" r="1.6" fill="#fad9c2" stroke="#efab80" stroke-width="0.65"/><circle cx="462.4" cy="405.1" r="1.6" fill="#fad9c2" stroke="#efab80" stroke-width="0.65"/><circle cx="463.8" cy="402.7" r="1.6" fill="#fad9c2" stroke="#efab80" stroke-width="0.65"/><circle cx="465.4" cy="400.5" r="1.6" fill="#fad9c2" stroke="#efab80" stroke-width="0.65"/><circle cx="467.3" cy="398.5" r="1.6" fill="#fad9c2" stroke="#efab80" stroke-width="0.65"/><circle cx="469.4" cy="396.7" r="1.6" fill="#fad9c2" stroke="#efab80" stroke-width="0.65"/><circle cx="471.8" cy="395.2" r="1.6" fill="#fad9c2" stroke="#efab80" stroke-width="0.65"/><circle cx="474.2" cy="393.9" r="1.6" fill="#fad9c2" stroke="#efab80" stroke-width="0.65"/><circle cx="476.8" cy="393.0" r="1.6" fill="#fad9c2" stroke="#efab80" stroke-width="0.65"/><circle cx="479.5" cy="392.4" r="1.6" fill="#fad9c2" stroke="#efab80" stroke-width="0.65"/><circle cx="482.2" cy="392.0" r="1.6" fill="#fad9c2" stroke="#efab80" stroke-width="0.65"/><circle cx="485.0" cy="392.0" r="1.6" fill="#fad9c2" stroke="#efab80" stroke-width="0.65"/><circle cx="487.7" cy="392.4" r="1.6" fill="#fad9c2" stroke="#efab80" stroke-width="0.65"/><circle cx="490.4" cy="393.0" r="1.6" fill="#fad9c2" stroke="#efab80" stroke-width="0.65"/><circle cx="493.0" cy="393.9" r="1.6" fill="#fad9c2" stroke="#efab80" stroke-width="0.65"/><circle cx="495.5" cy="395.2" r="1.6" fill="#fad9c2" stroke="#efab80" stroke-width="0.65"/><circle cx="497.8" cy="396.7" r="1.6" fill="#fad9c2" stroke="#efab80" stroke-width="0.65"/><circle cx="507.1" cy="412.9" r="1.6" fill="#fad9c2" stroke="#efab80" stroke-width="0.65"/><circle cx="501.1" cy="415.7" r="1.5" fill="#fad9c2" stroke="#efab80" stroke-width="0.65"/><circle cx="500.9" cy="418.6" r="1.5" fill="#fad9c2" stroke="#efab80" stroke-width="0.65"/><circle cx="500.2" cy="421.4" r="1.5" fill="#fad9c2" stroke="#efab80" stroke-width="0.65"/><circle cx="499.0" cy="424.0" r="1.5" fill="#fad9c2" stroke="#efab80" stroke-width="0.65"/><circle cx="497.4" cy="426.4" r="1.5" fill="#fad9c2" stroke="#efab80" stroke-width="0.65"/><circle cx="495.5" cy="428.6" r="1.5" fill="#fad9c2" stroke="#efab80" stroke-width="0.65"/><circle cx="493.2" cy="430.4" r="1.5" fill="#fad9c2" stroke="#efab80" stroke-width="0.65"/><circle cx="490.6" cy="431.7" r="1.5" fill="#fad9c2" stroke="#efab80" stroke-width="0.65"/><circle cx="487.9" cy="432.7" r="1.5" fill="#fad9c2" stroke="#efab80" stroke-width="0.65"/><circle cx="485.0" cy="433.1" r="1.5" fill="#fad9c2" stroke="#efab80" stroke-width="0.65"/><circle cx="482.2" cy="433.1" r="1.5" fill="#fad9c2" stroke="#efab80" stroke-width="0.65"/><circle cx="479.3" cy="432.7" r="1.5" fill="#fad9c2" stroke="#efab80" stroke-width="0.65"/><circle cx="476.6" cy="431.7" r="1.5" fill="#fad9c2" stroke="#efab80" stroke-width="0.65"/><circle cx="474.0" cy="430.4" r="1.5" fill="#fad9c2" stroke="#efab80" stroke-width="0.65"/><circle cx="471.7" cy="428.6" r="1.5" fill="#fad9c2" stroke="#efab80" stroke-width="0.65"/><circle cx="469.8" cy="426.4" r="1.5" fill="#fad9c2" stroke="#efab80" stroke-width="0.65"/><circle cx="468.2" cy="424.0" r="1.5" fill="#fad9c2" stroke="#efab80" stroke-width="0.65"/><circle cx="467.0" cy="421.4" r="1.5" fill="#fad9c2" stroke="#efab80" stroke-width="0.65"/><circle cx="466.3" cy="418.6" r="1.5" fill="#fad9c2" stroke="#efab80" stroke-width="0.65"/><circle cx="466.1" cy="415.7" r="1.5" fill="#fad9c2" stroke="#efab80" stroke-width="0.65"/><circle cx="466.3" cy="412.8" r="1.5" fill="#fad9c2" stroke="#efab80" stroke-width="0.65"/><circle cx="467.0" cy="410.0" r="1.5" fill="#fad9c2" stroke="#efab80" stroke-width="0.65"/><circle cx="468.2" cy="407.4" r="1.5" fill="#fad9c2" stroke="#efab80" stroke-width="0.65"/><circle cx="469.8" cy="405.0" r="1.5" fill="#fad9c2" stroke="#efab80" stroke-width="0.65"/><circle cx="471.7" cy="402.8" r="1.5" fill="#fad9c2" stroke="#efab80" stroke-width="0.65"/><circle cx="474.0" cy="401.0" r="1.5" fill="#fad9c2" stroke="#efab80" stroke-width="0.65"/><circle cx="476.6" cy="399.7" r="1.5" fill="#fad9c2" stroke="#efab80" stroke-width="0.65"/><circle cx="479.3" cy="398.7" r="1.5" fill="#fad9c2" stroke="#efab80" stroke-width="0.65"/><circle cx="482.2" cy="398.3" r="1.5" fill="#fad9c2" stroke="#efab80" stroke-width="0.65"/><circle cx="485.0" cy="398.3" r="1.5" fill="#fad9c2" stroke="#efab80" stroke-width="0.65"/><circle cx="487.9" cy="398.7" r="1.5" fill="#fad9c2" stroke="#efab80" stroke-width="0.65"/><circle cx="490.6" cy="399.7" r="1.5" fill="#fad9c2" stroke="#efab80" stroke-width="0.65"/><circle cx="493.2" cy="401.0" r="1.5" fill="#fad9c2" stroke="#efab80" stroke-width="0.65"/>
<circle cx="484.8" cy="408.4" r="2.5" fill="#d5d2e6" stroke="#7b7799" stroke-width="1.2"/>
<circle cx="477.5" cy="418.6" r="2.5" fill="#d5d2e6" stroke="#7b7799" stroke-width="1.2"/>
<circle cx="488.5" cy="419.4" r="2.5" fill="#d5d2e6" stroke="#7b7799" stroke-width="1.2"/>
<ellipse cx="612.2" cy="401.8" rx="40.6" ry="18.4" fill="url(#gCas)" stroke="#7d8fc3" stroke-width="0.7"/>
<text x="613.6" y="397.2" font-size="11" text-anchor="middle">Active</text>
<text x="613.4" y="409.6" font-size="10.9" text-anchor="middle">caspases</text>
<path d="M526,383 C535,392 546,397 558,398.6" fill="none" stroke="#333" stroke-width="1.3"/>
<path d="M565.3,399.2 L557.0,402.3 L557.7,394.7 Z" fill="#222"/>
<path d="M696,385 C689,395 678,401 665,402" fill="none" stroke="#333" stroke-width="1.3"/>
<path d="M657.4,402.0 L665.3,397.9 L665.5,405.5 Z" fill="#222"/>
<line x1="613.3" y1="424.5" x2="613.3" y2="436" stroke="#222" stroke-width="1.3"/>
<path d="M613.3,441.4 L608.8,434.9 L617.8,434.9 Z" fill="#222"/>
<clipPath id="cApo"><rect x="450" y="440" width="340" height="30"/></clipPath><ellipse cx="615" cy="478" rx="77" ry="30.3" fill="url(#gApo)" clip-path="url(#cApo)"/>
<text x="589.6" y="463" font-size="10.7">Apoptosis</text>
<text x="720.8" y="462.8" font-size="10.6">Tumor cell</text><path d="M792.3,475 L793,471.5 L794,475 Z" fill="#9a9a9a"/>
</svg></body></html>
